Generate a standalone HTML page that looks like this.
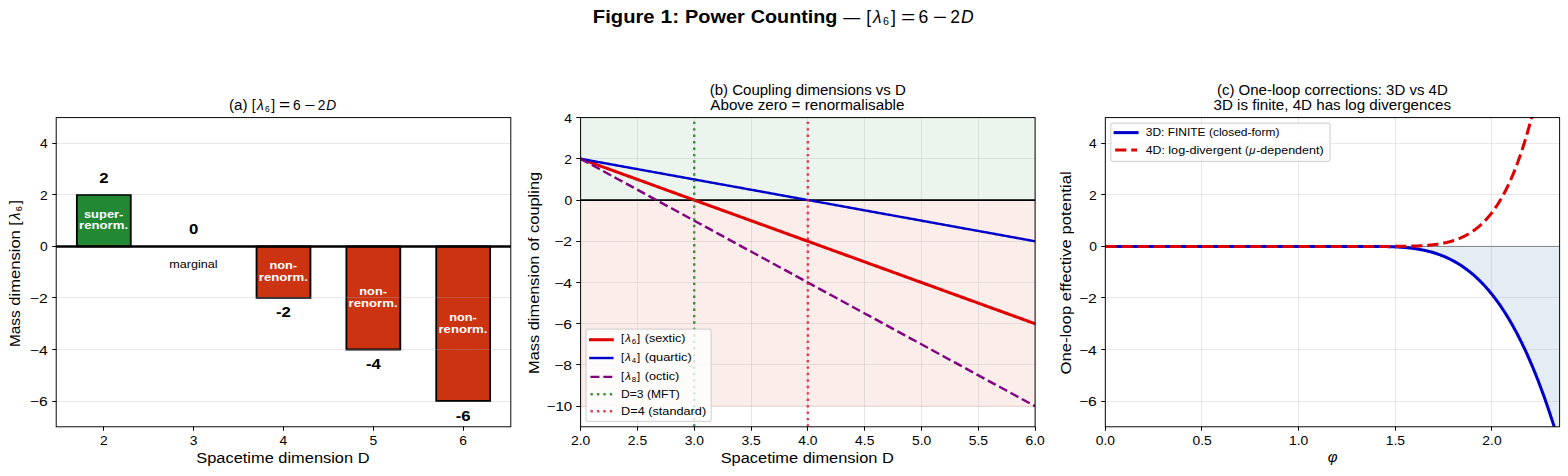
<!DOCTYPE html>
<html><head><meta charset="utf-8"><title>Figure 1: Power Counting</title>
<style>html,body{margin:0;padding:0;background:#fff;}body{width:1568px;height:476px;overflow:hidden;font-family:"Liberation Sans",sans-serif;}svg{display:block;}</style>
</head><body>
<svg width="1568" height="476" viewBox="0 0 1568 476" font-family="Liberation Sans, sans-serif">
<defs><clipPath id="ca"><rect x="56.2" y="117.59" width="454.6" height="309.21"/></clipPath><clipPath id="cb"><rect x="580.6" y="117.59" width="454.5" height="309.21"/></clipPath><clipPath id="cc"><rect x="1105.31" y="117.59" width="454.3" height="309.21"/></clipPath></defs>
<rect x="0" y="0" width="1568" height="476" fill="#ffffff"/>
<text x="592.89" y="22.59" font-size="17.52" font-weight="bold" textLength="61.68" lengthAdjust="spacingAndGlyphs">Figure</text>
<text x="660.49" y="22.59" font-size="17.52" font-weight="bold" textLength="18.64" lengthAdjust="spacingAndGlyphs">1:</text>
<text x="685.05" y="22.59" font-size="17.52" font-weight="bold" textLength="59.81" lengthAdjust="spacingAndGlyphs">Power</text>
<text x="750.78" y="22.59" font-size="17.52" font-weight="bold" textLength="86.66" lengthAdjust="spacingAndGlyphs">Counting</text>
<text x="843.36" y="22.59" font-size="17.52" textLength="17.01" lengthAdjust="spacingAndGlyphs">—</text>
<text x="866.3" y="22.59" font-size="17.52">[</text>
<text x="872.94" y="22.59" font-size="17.52" font-style="italic">λ</text>
<text x="883.01" y="25.08" font-size="10.67">6</text>
<text x="891.05" y="22.59" font-size="17.52">]</text>
<text x="901" y="22.59" font-size="17.52" textLength="14.26" lengthAdjust="spacingAndGlyphs">=</text>
<text x="918.57" y="22.59" font-size="17.52">6</text>
<text x="932.71" y="22.59" font-size="17.52" textLength="14.26" lengthAdjust="spacingAndGlyphs">−</text>
<text x="950.28" y="22.59" font-size="17.52">2</text>
<text x="961.11" y="22.59" font-size="17.52" font-style="italic">D</text>
<path d="M76.86 246.43 L130.77 246.43 L130.77 194.89 L76.86 194.89 L76.86 246.43 Z" fill="#228833" stroke="#000000" stroke-width="1.82" stroke-linejoin="miter" clip-path="url(#ca)"/>
<path d="M256.55 246.43 L310.45 246.43 L310.45 297.96 L256.55 297.96 L256.55 246.43 Z" fill="#cc3311" stroke="#000000" stroke-width="1.82" stroke-linejoin="miter" clip-path="url(#ca)"/>
<path d="M346.39 246.43 L400.3 246.43 L400.3 349.5 L346.39 349.5 L346.39 246.43 Z" fill="#cc3311" stroke="#000000" stroke-width="1.82" stroke-linejoin="miter" clip-path="url(#ca)"/>
<path d="M436.23 246.43 L490.14 246.43 L490.14 401.03 L436.23 401.03 L436.23 246.43 Z" fill="#cc3311" stroke="#000000" stroke-width="1.82" stroke-linejoin="miter" clip-path="url(#ca)"/>
<path d="M56.2 401.5 H510.8" stroke="#b0b0b0" stroke-opacity="0.3" stroke-width="0.97" fill="none"/>
<path d="M56.2 349.5 H510.8" stroke="#b0b0b0" stroke-opacity="0.3" stroke-width="0.97" fill="none"/>
<path d="M56.2 297.5 H510.8" stroke="#b0b0b0" stroke-opacity="0.3" stroke-width="0.97" fill="none"/>
<path d="M56.2 246.5 H510.8" stroke="#b0b0b0" stroke-opacity="0.3" stroke-width="0.97" fill="none"/>
<path d="M56.2 194.5 H510.8" stroke="#b0b0b0" stroke-opacity="0.3" stroke-width="0.97" fill="none"/>
<path d="M56.2 143.5 H510.8" stroke="#b0b0b0" stroke-opacity="0.3" stroke-width="0.97" fill="none"/>
<path d="M56.2 246.43 L510.8 246.43" fill="none" stroke="#000000" stroke-width="2.43" stroke-linecap="square" stroke-linejoin="round" clip-path="url(#ca)"/>
<text x="99.19" y="183.16" font-size="13.77" font-weight="bold" textLength="9.31" lengthAdjust="spacingAndGlyphs">2</text>
<text x="83.94" y="217.86" font-size="11.27" font-weight="bold" fill="#ffffff" textLength="39.48" lengthAdjust="spacingAndGlyphs">super-</text>
<text x="79.07" y="229.46" font-size="11.27" font-weight="bold" fill="#ffffff" textLength="49.06" lengthAdjust="spacingAndGlyphs">renorm.</text>
<text x="189.03" y="234.1" font-size="13.77" font-weight="bold" textLength="9.31" lengthAdjust="spacingAndGlyphs">0</text>
<text x="169.22" y="268.07" font-size="11.27" textLength="48.32" lengthAdjust="spacingAndGlyphs">marginal</text>
<text x="276.06" y="317.49" font-size="13.77" font-weight="bold" textLength="14.86" lengthAdjust="spacingAndGlyphs">-2</text>
<text x="269.5" y="269.4" font-size="11.27" font-weight="bold" fill="#ffffff" textLength="27.63" lengthAdjust="spacingAndGlyphs">non-</text>
<text x="258.75" y="281" font-size="11.27" font-weight="bold" fill="#ffffff" textLength="49.06" lengthAdjust="spacingAndGlyphs">renorm.</text>
<text x="365.91" y="369.03" font-size="13.77" font-weight="bold" textLength="14.86" lengthAdjust="spacingAndGlyphs">-4</text>
<text x="359.34" y="295.16" font-size="11.27" font-weight="bold" fill="#ffffff" textLength="27.63" lengthAdjust="spacingAndGlyphs">non-</text>
<text x="348.59" y="306.76" font-size="11.27" font-weight="bold" fill="#ffffff" textLength="49.06" lengthAdjust="spacingAndGlyphs">renorm.</text>
<text x="455.69" y="420.56" font-size="13.77" font-weight="bold" textLength="14.86" lengthAdjust="spacingAndGlyphs">-6</text>
<text x="449.19" y="320.93" font-size="11.27" font-weight="bold" fill="#ffffff" textLength="27.63" lengthAdjust="spacingAndGlyphs">non-</text>
<text x="438.44" y="332.53" font-size="11.27" font-weight="bold" fill="#ffffff" textLength="49.06" lengthAdjust="spacingAndGlyphs">renorm.</text>
<rect x="56.2" y="117.59" width="454.6" height="309.21" fill="none" stroke="#000" stroke-width="0.97" stroke-linejoin="miter"/>
<path d="M103.5 426.5 V430.75" stroke="#000" stroke-width="0.97"/>
<path d="M193.5 426.5 V430.75" stroke="#000" stroke-width="0.97"/>
<path d="M283.5 426.5 V430.75" stroke="#000" stroke-width="0.97"/>
<path d="M373.5 426.5 V430.75" stroke="#000" stroke-width="0.97"/>
<path d="M463.5 426.5 V430.75" stroke="#000" stroke-width="0.97"/>
<path d="M56.5 401.5 H52.25" stroke="#000" stroke-width="0.97"/>
<path d="M56.5 349.5 H52.25" stroke="#000" stroke-width="0.97"/>
<path d="M56.5 297.5 H52.25" stroke="#000" stroke-width="0.97"/>
<path d="M56.5 246.5 H52.25" stroke="#000" stroke-width="0.97"/>
<path d="M56.5 194.5 H52.25" stroke="#000" stroke-width="0.97"/>
<path d="M56.5 143.5 H52.25" stroke="#000" stroke-width="0.97"/>
<text x="99.94" y="445.31" font-size="12.52" textLength="7.71" lengthAdjust="spacingAndGlyphs">2</text>
<text x="189.78" y="445.31" font-size="12.52" textLength="7.71" lengthAdjust="spacingAndGlyphs">3</text>
<text x="279.63" y="445.31" font-size="12.52" textLength="7.71" lengthAdjust="spacingAndGlyphs">4</text>
<text x="369.53" y="445.31" font-size="12.52" textLength="7.71" lengthAdjust="spacingAndGlyphs">5</text>
<text x="459.31" y="445.31" font-size="12.52" textLength="7.71" lengthAdjust="spacingAndGlyphs">6</text>
<text x="29.82" y="406.03" font-size="12.52" textLength="17.87" lengthAdjust="spacingAndGlyphs">−6</text>
<text x="29.82" y="354.5" font-size="12.52" textLength="17.87" lengthAdjust="spacingAndGlyphs">−4</text>
<text x="29.82" y="302.96" font-size="12.52" textLength="17.87" lengthAdjust="spacingAndGlyphs">−2</text>
<text x="40.07" y="251.43" font-size="12.52" textLength="7.71" lengthAdjust="spacingAndGlyphs">0</text>
<text x="39.94" y="199.89" font-size="12.52" textLength="7.71" lengthAdjust="spacingAndGlyphs">2</text>
<text x="39.94" y="148.36" font-size="12.52" textLength="7.71" lengthAdjust="spacingAndGlyphs">4</text>
<text x="196.31" y="463.47" font-size="15.02" textLength="173.19" lengthAdjust="spacingAndGlyphs">Spacetime dimension D</text>
<g transform="rotate(-90 20.26 347.05)">
<text x="20.26" y="347.05" font-size="15.02" textLength="36.71" lengthAdjust="spacingAndGlyphs">Mass</text>
<text x="61.61" y="347.05" font-size="15.02" textLength="75.54" lengthAdjust="spacingAndGlyphs">dimension</text>
<text x="141.79" y="347.05" font-size="15.02">[</text>
<text x="147.48" y="347.05" font-size="15.02" font-style="italic">λ</text>
<text x="156.11" y="349.15" font-size="9.15">6</text>
<text x="163" y="347.05" font-size="15.02">]</text>
</g>
<text x="228.97" y="110.3" font-size="13.77" textLength="18.62" lengthAdjust="spacingAndGlyphs">(a)</text>
<text x="251.85" y="110.3" font-size="13.77">[</text>
<text x="257.06" y="110.3" font-size="13.77" font-style="italic">λ</text>
<text x="264.97" y="112.19" font-size="8.39">6</text>
<text x="271.29" y="110.3" font-size="13.77">]</text>
<text x="279.11" y="110.3" font-size="13.77" textLength="11.2" lengthAdjust="spacingAndGlyphs">=</text>
<text x="292.92" y="110.3" font-size="13.77">6</text>
<text x="304.03" y="110.3" font-size="13.77" textLength="11.2" lengthAdjust="spacingAndGlyphs">−</text>
<text x="317.83" y="110.3" font-size="13.77">2</text>
<text x="326.34" y="110.3" font-size="13.77" font-style="italic">D</text>
<path d="M580.6 200.05 L1035.11 200.05 L1035.11 117.59 L580.6 117.59 L580.6 200.05 Z" fill="#228833" fill-opacity="0.09" stroke="#228833" stroke-width="1.22" stroke-linejoin="miter" stroke-opacity="0.09" clip-path="url(#cb)"/>
<path d="M580.6 406.19 L1035.11 406.19 L1035.11 200.05 L580.6 200.05 L580.6 406.19 Z" fill="#cc3311" fill-opacity="0.09" stroke="#cc3311" stroke-width="1.22" stroke-linejoin="miter" stroke-opacity="0.09" clip-path="url(#cb)"/>
<path d="M580.5 117.59 V426.8" stroke="#b0b0b0" stroke-opacity="0.3" stroke-width="0.97" fill="none"/>
<path d="M637.5 117.59 V426.8" stroke="#b0b0b0" stroke-opacity="0.3" stroke-width="0.97" fill="none"/>
<path d="M694.5 117.59 V426.8" stroke="#b0b0b0" stroke-opacity="0.3" stroke-width="0.97" fill="none"/>
<path d="M751.5 117.59 V426.8" stroke="#b0b0b0" stroke-opacity="0.3" stroke-width="0.97" fill="none"/>
<path d="M807.5 117.59 V426.8" stroke="#b0b0b0" stroke-opacity="0.3" stroke-width="0.97" fill="none"/>
<path d="M864.5 117.59 V426.8" stroke="#b0b0b0" stroke-opacity="0.3" stroke-width="0.97" fill="none"/>
<path d="M921.5 117.59 V426.8" stroke="#b0b0b0" stroke-opacity="0.3" stroke-width="0.97" fill="none"/>
<path d="M978.5 117.59 V426.8" stroke="#b0b0b0" stroke-opacity="0.3" stroke-width="0.97" fill="none"/>
<path d="M1035.5 117.59 V426.8" stroke="#b0b0b0" stroke-opacity="0.3" stroke-width="0.97" fill="none"/>
<path d="M580.6 406.5 H1035.11" stroke="#b0b0b0" stroke-opacity="0.3" stroke-width="0.97" fill="none"/>
<path d="M580.6 364.5 H1035.11" stroke="#b0b0b0" stroke-opacity="0.3" stroke-width="0.97" fill="none"/>
<path d="M580.6 323.5 H1035.11" stroke="#b0b0b0" stroke-opacity="0.3" stroke-width="0.97" fill="none"/>
<path d="M580.6 282.5 H1035.11" stroke="#b0b0b0" stroke-opacity="0.3" stroke-width="0.97" fill="none"/>
<path d="M580.6 241.5 H1035.11" stroke="#b0b0b0" stroke-opacity="0.3" stroke-width="0.97" fill="none"/>
<path d="M580.6 200.5 H1035.11" stroke="#b0b0b0" stroke-opacity="0.3" stroke-width="0.97" fill="none"/>
<path d="M580.6 158.5 H1035.11" stroke="#b0b0b0" stroke-opacity="0.3" stroke-width="0.97" fill="none"/>
<path d="M580.6 117.5 H1035.11" stroke="#b0b0b0" stroke-opacity="0.3" stroke-width="0.97" fill="none"/>
<path d="M580.6 200.05 L1035.11 200.05" fill="none" stroke="#000000" stroke-width="1.82" stroke-linecap="square" stroke-linejoin="round" clip-path="url(#cb)"/>
<path d="M580.6 158.82 L582.89 159.65 L585.17 160.48 L587.46 161.31 L589.74 162.13 L592.02 162.96 L594.31 163.79 L596.59 164.62 L598.88 165.45 L601.16 166.28 L603.44 167.11 L605.73 167.94 L608.01 168.76 L610.29 169.59 L612.58 170.42 L614.86 171.25 L617.15 172.08 L619.43 172.91 L621.71 173.74 L624 174.57 L626.28 175.39 L628.57 176.22 L630.85 177.05 L633.13 177.88 L635.42 178.71 L637.7 179.54 L639.99 180.37 L642.27 181.19 L644.55 182.02 L646.84 182.85 L649.12 183.68 L651.41 184.51 L653.69 185.34 L655.97 186.17 L658.26 187 L660.54 187.82 L662.83 188.65 L665.11 189.48 L667.39 190.31 L669.68 191.14 L671.96 191.97 L674.25 192.8 L676.53 193.63 L678.81 194.45 L681.1 195.28 L683.38 196.11 L685.66 196.94 L687.95 197.77 L690.23 198.6 L692.52 199.43 L694.8 200.25 L697.08 201.08 L699.37 201.91 L701.65 202.74 L703.94 203.57 L706.22 204.4 L708.5 205.23 L710.79 206.06 L713.07 206.88 L715.36 207.71 L717.64 208.54 L719.92 209.37 L722.21 210.2 L724.49 211.03 L726.78 211.86 L729.06 212.69 L731.34 213.51 L733.63 214.34 L735.91 215.17 L738.2 216 L740.48 216.83 L742.76 217.66 L745.05 218.49 L747.33 219.31 L749.61 220.14 L751.9 220.97 L754.18 221.8 L756.47 222.63 L758.75 223.46 L761.03 224.29 L763.32 225.12 L765.6 225.94 L767.89 226.77 L770.17 227.6 L772.45 228.43 L774.74 229.26 L777.02 230.09 L779.31 230.92 L781.59 231.75 L783.87 232.57 L786.16 233.4 L788.44 234.23 L790.73 235.06 L793.01 235.89 L795.29 236.72 L797.58 237.55 L799.86 238.37 L802.15 239.2 L804.43 240.03 L806.71 240.86 L809 241.69 L811.28 242.52 L813.56 243.35 L815.85 244.18 L818.13 245 L820.42 245.83 L822.7 246.66 L824.98 247.49 L827.27 248.32 L829.55 249.15 L831.84 249.98 L834.12 250.81 L836.4 251.63 L838.69 252.46 L840.97 253.29 L843.26 254.12 L845.54 254.95 L847.82 255.78 L850.11 256.61 L852.39 257.43 L854.68 258.26 L856.96 259.09 L859.24 259.92 L861.53 260.75 L863.81 261.58 L866.1 262.41 L868.38 263.24 L870.66 264.06 L872.95 264.89 L875.23 265.72 L877.52 266.55 L879.8 267.38 L882.08 268.21 L884.37 269.04 L886.65 269.87 L888.93 270.69 L891.22 271.52 L893.5 272.35 L895.79 273.18 L898.07 274.01 L900.35 274.84 L902.64 275.67 L904.92 276.49 L907.21 277.32 L909.49 278.15 L911.77 278.98 L914.06 279.81 L916.34 280.64 L918.63 281.47 L920.91 282.3 L923.19 283.12 L925.48 283.95 L927.76 284.78 L930.05 285.61 L932.33 286.44 L934.61 287.27 L936.9 288.1 L939.18 288.92 L941.47 289.75 L943.75 290.58 L946.03 291.41 L948.32 292.24 L950.6 293.07 L952.88 293.9 L955.17 294.73 L957.45 295.55 L959.74 296.38 L962.02 297.21 L964.3 298.04 L966.59 298.87 L968.87 299.7 L971.16 300.53 L973.44 301.36 L975.72 302.18 L978.01 303.01 L980.29 303.84 L982.58 304.67 L984.86 305.5 L987.14 306.33 L989.43 307.16 L991.71 307.98 L994 308.81 L996.28 309.64 L998.56 310.47 L1000.85 311.3 L1003.13 312.13 L1005.42 312.96 L1007.7 313.79 L1009.98 314.61 L1012.27 315.44 L1014.55 316.27 L1016.84 317.1 L1019.12 317.93 L1021.4 318.76 L1023.69 319.59 L1025.97 320.42 L1028.25 321.24 L1030.54 322.07 L1032.82 322.9 L1035.11 323.73" fill="none" stroke="#e00000" stroke-width="3.04" stroke-linecap="square" stroke-linejoin="round" clip-path="url(#cb)"/>
<path d="M580.6 158.82 L582.89 159.23 L585.17 159.65 L587.46 160.06 L589.74 160.48 L592.02 160.89 L594.31 161.31 L596.59 161.72 L598.88 162.13 L601.16 162.55 L603.44 162.96 L605.73 163.38 L608.01 163.79 L610.29 164.21 L612.58 164.62 L614.86 165.04 L617.15 165.45 L619.43 165.86 L621.71 166.28 L624 166.69 L626.28 167.11 L628.57 167.52 L630.85 167.94 L633.13 168.35 L635.42 168.76 L637.7 169.18 L639.99 169.59 L642.27 170.01 L644.55 170.42 L646.84 170.84 L649.12 171.25 L651.41 171.66 L653.69 172.08 L655.97 172.49 L658.26 172.91 L660.54 173.32 L662.83 173.74 L665.11 174.15 L667.39 174.57 L669.68 174.98 L671.96 175.39 L674.25 175.81 L676.53 176.22 L678.81 176.64 L681.1 177.05 L683.38 177.47 L685.66 177.88 L687.95 178.29 L690.23 178.71 L692.52 179.12 L694.8 179.54 L697.08 179.95 L699.37 180.37 L701.65 180.78 L703.94 181.19 L706.22 181.61 L708.5 182.02 L710.79 182.44 L713.07 182.85 L715.36 183.27 L717.64 183.68 L719.92 184.1 L722.21 184.51 L724.49 184.92 L726.78 185.34 L729.06 185.75 L731.34 186.17 L733.63 186.58 L735.91 187 L738.2 187.41 L740.48 187.82 L742.76 188.24 L745.05 188.65 L747.33 189.07 L749.61 189.48 L751.9 189.9 L754.18 190.31 L756.47 190.72 L758.75 191.14 L761.03 191.55 L763.32 191.97 L765.6 192.38 L767.89 192.8 L770.17 193.21 L772.45 193.63 L774.74 194.04 L777.02 194.45 L779.31 194.87 L781.59 195.28 L783.87 195.7 L786.16 196.11 L788.44 196.53 L790.73 196.94 L793.01 197.35 L795.29 197.77 L797.58 198.18 L799.86 198.6 L802.15 199.01 L804.43 199.43 L806.71 199.84 L809 200.25 L811.28 200.67 L813.56 201.08 L815.85 201.5 L818.13 201.91 L820.42 202.33 L822.7 202.74 L824.98 203.16 L827.27 203.57 L829.55 203.98 L831.84 204.4 L834.12 204.81 L836.4 205.23 L838.69 205.64 L840.97 206.06 L843.26 206.47 L845.54 206.88 L847.82 207.3 L850.11 207.71 L852.39 208.13 L854.68 208.54 L856.96 208.96 L859.24 209.37 L861.53 209.78 L863.81 210.2 L866.1 210.61 L868.38 211.03 L870.66 211.44 L872.95 211.86 L875.23 212.27 L877.52 212.69 L879.8 213.1 L882.08 213.51 L884.37 213.93 L886.65 214.34 L888.93 214.76 L891.22 215.17 L893.5 215.59 L895.79 216 L898.07 216.41 L900.35 216.83 L902.64 217.24 L904.92 217.66 L907.21 218.07 L909.49 218.49 L911.77 218.9 L914.06 219.31 L916.34 219.73 L918.63 220.14 L920.91 220.56 L923.19 220.97 L925.48 221.39 L927.76 221.8 L930.05 222.22 L932.33 222.63 L934.61 223.04 L936.9 223.46 L939.18 223.87 L941.47 224.29 L943.75 224.7 L946.03 225.12 L948.32 225.53 L950.6 225.94 L952.88 226.36 L955.17 226.77 L957.45 227.19 L959.74 227.6 L962.02 228.02 L964.3 228.43 L966.59 228.84 L968.87 229.26 L971.16 229.67 L973.44 230.09 L975.72 230.5 L978.01 230.92 L980.29 231.33 L982.58 231.75 L984.86 232.16 L987.14 232.57 L989.43 232.99 L991.71 233.4 L994 233.82 L996.28 234.23 L998.56 234.65 L1000.85 235.06 L1003.13 235.47 L1005.42 235.89 L1007.7 236.3 L1009.98 236.72 L1012.27 237.13 L1014.55 237.55 L1016.84 237.96 L1019.12 238.37 L1021.4 238.79 L1023.69 239.2 L1025.97 239.62 L1028.25 240.03 L1030.54 240.45 L1032.82 240.86 L1035.11 241.28" fill="none" stroke="#0000cc" stroke-width="2.43" stroke-linecap="square" stroke-linejoin="round" clip-path="url(#cb)"/>
<path d="M580.6 158.82 L582.89 160.06 L585.17 161.31 L587.46 162.55 L589.74 163.79 L592.02 165.04 L594.31 166.28 L596.59 167.52 L598.88 168.76 L601.16 170.01 L603.44 171.25 L605.73 172.49 L608.01 173.74 L610.29 174.98 L612.58 176.22 L614.86 177.47 L617.15 178.71 L619.43 179.95 L621.71 181.19 L624 182.44 L626.28 183.68 L628.57 184.92 L630.85 186.17 L633.13 187.41 L635.42 188.65 L637.7 189.9 L639.99 191.14 L642.27 192.38 L644.55 193.63 L646.84 194.87 L649.12 196.11 L651.41 197.35 L653.69 198.6 L655.97 199.84 L658.26 201.08 L660.54 202.33 L662.83 203.57 L665.11 204.81 L667.39 206.06 L669.68 207.3 L671.96 208.54 L674.25 209.78 L676.53 211.03 L678.81 212.27 L681.1 213.51 L683.38 214.76 L685.66 216 L687.95 217.24 L690.23 218.49 L692.52 219.73 L694.8 220.97 L697.08 222.22 L699.37 223.46 L701.65 224.7 L703.94 225.94 L706.22 227.19 L708.5 228.43 L710.79 229.67 L713.07 230.92 L715.36 232.16 L717.64 233.4 L719.92 234.65 L722.21 235.89 L724.49 237.13 L726.78 238.37 L729.06 239.62 L731.34 240.86 L733.63 242.1 L735.91 243.35 L738.2 244.59 L740.48 245.83 L742.76 247.08 L745.05 248.32 L747.33 249.56 L749.61 250.81 L751.9 252.05 L754.18 253.29 L756.47 254.53 L758.75 255.78 L761.03 257.02 L763.32 258.26 L765.6 259.51 L767.89 260.75 L770.17 261.99 L772.45 263.24 L774.74 264.48 L777.02 265.72 L779.31 266.96 L781.59 268.21 L783.87 269.45 L786.16 270.69 L788.44 271.94 L790.73 273.18 L793.01 274.42 L795.29 275.67 L797.58 276.91 L799.86 278.15 L802.15 279.39 L804.43 280.64 L806.71 281.88 L809 283.12 L811.28 284.37 L813.56 285.61 L815.85 286.85 L818.13 288.1 L820.42 289.34 L822.7 290.58 L824.98 291.83 L827.27 293.07 L829.55 294.31 L831.84 295.55 L834.12 296.8 L836.4 298.04 L838.69 299.28 L840.97 300.53 L843.26 301.77 L845.54 303.01 L847.82 304.26 L850.11 305.5 L852.39 306.74 L854.68 307.98 L856.96 309.23 L859.24 310.47 L861.53 311.71 L863.81 312.96 L866.1 314.2 L868.38 315.44 L870.66 316.69 L872.95 317.93 L875.23 319.17 L877.52 320.42 L879.8 321.66 L882.08 322.9 L884.37 324.14 L886.65 325.39 L888.93 326.63 L891.22 327.87 L893.5 329.12 L895.79 330.36 L898.07 331.6 L900.35 332.85 L902.64 334.09 L904.92 335.33 L907.21 336.57 L909.49 337.82 L911.77 339.06 L914.06 340.3 L916.34 341.55 L918.63 342.79 L920.91 344.03 L923.19 345.28 L925.48 346.52 L927.76 347.76 L930.05 349.01 L932.33 350.25 L934.61 351.49 L936.9 352.73 L939.18 353.98 L941.47 355.22 L943.75 356.46 L946.03 357.71 L948.32 358.95 L950.6 360.19 L952.88 361.44 L955.17 362.68 L957.45 363.92 L959.74 365.16 L962.02 366.41 L964.3 367.65 L966.59 368.89 L968.87 370.14 L971.16 371.38 L973.44 372.62 L975.72 373.87 L978.01 375.11 L980.29 376.35 L982.58 377.6 L984.86 378.84 L987.14 380.08 L989.43 381.32 L991.71 382.57 L994 383.81 L996.28 385.05 L998.56 386.3 L1000.85 387.54 L1003.13 388.78 L1005.42 390.03 L1007.7 391.27 L1009.98 392.51 L1012.27 393.75 L1014.55 395 L1016.84 396.24 L1019.12 397.48 L1021.4 398.73 L1023.69 399.97 L1025.97 401.21 L1028.25 402.46 L1030.54 403.7 L1032.82 404.94 L1035.11 406.19" fill="none" stroke="#800080" stroke-width="2.43" stroke-dasharray="8.99 3.89" stroke-linecap="butt" stroke-linejoin="round" clip-path="url(#cb)"/>
<path d="M694.23 426.8 L694.23 117.59" fill="none" stroke="#1a801a" stroke-width="2.43" stroke-opacity="0.85" stroke-dasharray="2.43 4.01" stroke-linecap="butt" stroke-linejoin="round" clip-path="url(#cb)"/>
<path d="M807.86 426.8 L807.86 117.59" fill="none" stroke="#d8203a" stroke-width="2.43" stroke-opacity="0.85" stroke-dasharray="2.43 4.01" stroke-linecap="butt" stroke-linejoin="round" clip-path="url(#cb)"/>
<rect x="580.6" y="117.59" width="454.5" height="309.21" fill="none" stroke="#000" stroke-width="0.97" stroke-linejoin="miter"/>
<path d="M580.5 426.5 V430.75" stroke="#000" stroke-width="0.97"/>
<path d="M637.5 426.5 V430.75" stroke="#000" stroke-width="0.97"/>
<path d="M694.5 426.5 V430.75" stroke="#000" stroke-width="0.97"/>
<path d="M751.5 426.5 V430.75" stroke="#000" stroke-width="0.97"/>
<path d="M807.5 426.5 V430.75" stroke="#000" stroke-width="0.97"/>
<path d="M864.5 426.5 V430.75" stroke="#000" stroke-width="0.97"/>
<path d="M921.5 426.5 V430.75" stroke="#000" stroke-width="0.97"/>
<path d="M978.5 426.5 V430.75" stroke="#000" stroke-width="0.97"/>
<path d="M1035.5 426.5 V430.75" stroke="#000" stroke-width="0.97"/>
<path d="M580.5 406.5 H576.25" stroke="#000" stroke-width="0.97"/>
<path d="M580.5 364.5 H576.25" stroke="#000" stroke-width="0.97"/>
<path d="M580.5 323.5 H576.25" stroke="#000" stroke-width="0.97"/>
<path d="M580.5 282.5 H576.25" stroke="#000" stroke-width="0.97"/>
<path d="M580.5 241.5 H576.25" stroke="#000" stroke-width="0.97"/>
<path d="M580.5 200.5 H576.25" stroke="#000" stroke-width="0.97"/>
<path d="M580.5 158.5 H576.25" stroke="#000" stroke-width="0.97"/>
<path d="M580.5 117.5 H576.25" stroke="#000" stroke-width="0.97"/>
<text x="571.04" y="445.31" font-size="12.52" textLength="19.28" lengthAdjust="spacingAndGlyphs">2.0</text>
<text x="627.85" y="445.31" font-size="12.52" textLength="19.28" lengthAdjust="spacingAndGlyphs">2.5</text>
<text x="684.67" y="445.31" font-size="12.52" textLength="19.28" lengthAdjust="spacingAndGlyphs">3.0</text>
<text x="741.48" y="445.31" font-size="12.52" textLength="19.28" lengthAdjust="spacingAndGlyphs">3.5</text>
<text x="798.29" y="445.31" font-size="12.52" textLength="19.28" lengthAdjust="spacingAndGlyphs">4.0</text>
<text x="855.11" y="445.31" font-size="12.52" textLength="19.28" lengthAdjust="spacingAndGlyphs">4.5</text>
<text x="911.98" y="445.31" font-size="12.52" textLength="19.28" lengthAdjust="spacingAndGlyphs">5.0</text>
<text x="968.79" y="445.31" font-size="12.52" textLength="19.28" lengthAdjust="spacingAndGlyphs">5.5</text>
<text x="1025.54" y="445.31" font-size="12.52" textLength="19.28" lengthAdjust="spacingAndGlyphs">6.0</text>
<text x="546.6" y="411.19" font-size="12.52" textLength="25.59" lengthAdjust="spacingAndGlyphs">−10</text>
<text x="554.22" y="369.96" font-size="12.52" textLength="17.87" lengthAdjust="spacingAndGlyphs">−8</text>
<text x="554.22" y="328.73" font-size="12.52" textLength="17.87" lengthAdjust="spacingAndGlyphs">−6</text>
<text x="554.22" y="287.5" font-size="12.52" textLength="17.87" lengthAdjust="spacingAndGlyphs">−4</text>
<text x="554.22" y="246.28" font-size="12.52" textLength="17.87" lengthAdjust="spacingAndGlyphs">−2</text>
<text x="564.47" y="205.05" font-size="12.52" textLength="7.71" lengthAdjust="spacingAndGlyphs">0</text>
<text x="564.35" y="163.82" font-size="12.52" textLength="7.71" lengthAdjust="spacingAndGlyphs">2</text>
<text x="564.35" y="122.59" font-size="12.52" textLength="7.71" lengthAdjust="spacingAndGlyphs">4</text>
<rect x="586.07" y="329.08" width="125.12" height="92.25" rx="2.19" fill="#ffffff" fill-opacity="0.8" stroke="#cccccc" stroke-opacity="0.8" stroke-width="1.22"/>
<path d="M590.45 339.73 L601.38 339.73 L612.32 339.73" fill="none" stroke="#e00000" stroke-width="3.04" stroke-linecap="square" stroke-linejoin="round"/>
<path d="M590.45 358.01 L601.38 358.01 L612.32 358.01" fill="none" stroke="#0000cc" stroke-width="2.43" stroke-linecap="square" stroke-linejoin="round"/>
<path d="M590.45 376.88 L601.38 376.88 L612.32 376.88" fill="none" stroke="#800080" stroke-width="2.43" stroke-dasharray="8.99 3.89" stroke-linecap="butt" stroke-linejoin="round"/>
<path d="M590.45 394.26 L601.38 394.26 L612.32 394.26" fill="none" stroke="#1a801a" stroke-width="2.43" stroke-opacity="0.85" stroke-dasharray="2.43 4.01" stroke-linecap="butt" stroke-linejoin="round"/>
<path d="M590.45 411.23 L601.38 411.23 L612.32 411.23" fill="none" stroke="#d8203a" stroke-width="2.43" stroke-opacity="0.85" stroke-dasharray="2.43 4.01" stroke-linecap="butt" stroke-linejoin="round"/>
<text x="621.07" y="341.76" font-size="11.27">[</text>
<text x="625.34" y="341.76" font-size="11.27" font-style="italic">λ</text>
<text x="631.81" y="343.96" font-size="7.89">6</text>
<text x="636.98" y="341.76" font-size="11.27">]</text>
<text x="644.73" y="341.76" font-size="11.27" textLength="40.78" lengthAdjust="spacingAndGlyphs">(sextic)</text>
<text x="621.07" y="360.84" font-size="11.27">[</text>
<text x="625.34" y="360.84" font-size="11.27" font-style="italic">λ</text>
<text x="631.81" y="363.03" font-size="7.89">4</text>
<text x="636.98" y="360.84" font-size="11.27">]</text>
<text x="644.73" y="360.84" font-size="11.27" textLength="46.95" lengthAdjust="spacingAndGlyphs">(quartic)</text>
<text x="621.07" y="379.71" font-size="11.27">[</text>
<text x="625.34" y="379.71" font-size="11.27" font-style="italic">λ</text>
<text x="631.81" y="381.91" font-size="7.89">8</text>
<text x="636.98" y="379.71" font-size="11.27">]</text>
<text x="644.73" y="379.71" font-size="11.27" textLength="34.58" lengthAdjust="spacingAndGlyphs">(octic)</text>
<text x="621.07" y="398.09" font-size="11.27" textLength="58.77" lengthAdjust="spacingAndGlyphs">D=3 (MFT)</text>
<text x="621.07" y="415.06" font-size="11.27" textLength="85.07" lengthAdjust="spacingAndGlyphs">D=4 (standard)</text>
<text x="720.67" y="463.47" font-size="15.02" textLength="173.19" lengthAdjust="spacingAndGlyphs">Spacetime dimension D</text>
<g transform="rotate(-90 538.74 373.88)">
<text x="538.74" y="373.88" font-size="15.02" textLength="201.98" lengthAdjust="spacingAndGlyphs">Mass dimension of coupling</text>
</g>
<text x="709.67" y="95.3" font-size="13.77" textLength="196.26" lengthAdjust="spacingAndGlyphs">(b) Coupling dimensions vs D</text>
<text x="710.29" y="110.3" font-size="13.77" textLength="194.18" lengthAdjust="spacingAndGlyphs">Above zero = renormalisable</text>
<path d="M1105.31 246.43 L1105.31 246.43 L1106.11 246.43 L1106.92 246.43 L1107.73 246.43 L1108.53 246.43 L1109.34 246.43 L1110.15 246.43 L1110.95 246.43 L1111.76 246.43 L1112.57 246.43 L1113.38 246.43 L1114.18 246.43 L1114.99 246.43 L1115.8 246.43 L1116.6 246.43 L1117.41 246.43 L1118.22 246.43 L1119.02 246.43 L1119.83 246.43 L1120.64 246.43 L1121.44 246.43 L1122.25 246.43 L1123.06 246.43 L1123.86 246.43 L1124.67 246.43 L1125.48 246.43 L1126.29 246.43 L1127.09 246.43 L1127.9 246.43 L1128.71 246.43 L1129.51 246.43 L1130.32 246.43 L1131.13 246.43 L1131.93 246.43 L1132.74 246.43 L1133.55 246.43 L1134.35 246.43 L1135.16 246.43 L1135.97 246.43 L1136.77 246.43 L1137.58 246.43 L1138.39 246.43 L1139.19 246.43 L1140 246.43 L1140.81 246.43 L1141.62 246.43 L1142.42 246.43 L1143.23 246.43 L1144.04 246.43 L1144.84 246.43 L1145.65 246.43 L1146.46 246.43 L1147.26 246.43 L1148.07 246.43 L1148.88 246.43 L1149.68 246.43 L1150.49 246.43 L1151.3 246.43 L1152.1 246.43 L1152.91 246.43 L1153.72 246.43 L1154.52 246.43 L1155.33 246.43 L1156.14 246.43 L1156.95 246.43 L1157.75 246.43 L1158.56 246.43 L1159.37 246.43 L1160.17 246.43 L1160.98 246.43 L1161.79 246.43 L1162.59 246.43 L1163.4 246.43 L1164.21 246.43 L1165.01 246.43 L1165.82 246.43 L1166.63 246.43 L1167.43 246.43 L1168.24 246.43 L1169.05 246.43 L1169.85 246.43 L1170.66 246.43 L1171.47 246.43 L1172.28 246.43 L1173.08 246.43 L1173.89 246.43 L1174.7 246.43 L1175.5 246.43 L1176.31 246.43 L1177.12 246.43 L1177.92 246.43 L1178.73 246.43 L1179.54 246.43 L1180.34 246.43 L1181.15 246.43 L1181.96 246.43 L1182.76 246.43 L1183.57 246.43 L1184.38 246.43 L1185.18 246.43 L1185.99 246.43 L1186.8 246.43 L1187.61 246.43 L1188.41 246.43 L1189.22 246.43 L1190.03 246.43 L1190.83 246.43 L1191.64 246.43 L1192.45 246.43 L1193.25 246.43 L1194.06 246.43 L1194.87 246.43 L1195.67 246.43 L1196.48 246.43 L1197.29 246.43 L1198.09 246.43 L1198.9 246.43 L1199.71 246.43 L1200.51 246.43 L1201.32 246.43 L1202.13 246.43 L1202.94 246.43 L1203.74 246.43 L1204.55 246.43 L1205.36 246.43 L1206.16 246.43 L1206.97 246.43 L1207.78 246.43 L1208.58 246.43 L1209.39 246.43 L1210.2 246.43 L1211 246.43 L1211.81 246.43 L1212.62 246.43 L1213.42 246.43 L1214.23 246.43 L1215.04 246.43 L1215.84 246.43 L1216.65 246.43 L1217.46 246.43 L1218.27 246.43 L1219.07 246.43 L1219.88 246.43 L1220.69 246.43 L1221.49 246.43 L1222.3 246.43 L1223.11 246.43 L1223.91 246.43 L1224.72 246.43 L1225.53 246.43 L1226.33 246.43 L1227.14 246.43 L1227.95 246.43 L1228.75 246.43 L1229.56 246.43 L1230.37 246.43 L1231.18 246.43 L1231.98 246.43 L1232.79 246.43 L1233.6 246.43 L1234.4 246.43 L1235.21 246.43 L1236.02 246.43 L1236.82 246.43 L1237.63 246.43 L1238.44 246.43 L1239.24 246.43 L1240.05 246.43 L1240.86 246.43 L1241.66 246.43 L1242.47 246.43 L1243.28 246.43 L1244.08 246.43 L1244.89 246.43 L1245.7 246.43 L1246.51 246.43 L1247.31 246.43 L1248.12 246.43 L1248.93 246.43 L1249.73 246.43 L1250.54 246.43 L1251.35 246.43 L1252.15 246.43 L1252.96 246.43 L1253.77 246.43 L1254.57 246.43 L1255.38 246.43 L1256.19 246.43 L1256.99 246.43 L1257.8 246.43 L1258.61 246.43 L1259.41 246.43 L1260.22 246.43 L1261.03 246.43 L1261.84 246.43 L1262.64 246.43 L1263.45 246.43 L1264.26 246.43 L1265.06 246.43 L1265.87 246.43 L1266.68 246.43 L1267.48 246.43 L1268.29 246.43 L1269.1 246.43 L1269.9 246.43 L1270.71 246.43 L1271.52 246.43 L1272.32 246.43 L1273.13 246.43 L1273.94 246.43 L1274.74 246.43 L1275.55 246.43 L1276.36 246.43 L1277.17 246.43 L1277.97 246.43 L1278.78 246.43 L1279.59 246.43 L1280.39 246.43 L1281.2 246.43 L1282.01 246.43 L1282.81 246.43 L1283.62 246.43 L1284.43 246.43 L1285.23 246.43 L1286.04 246.43 L1286.85 246.43 L1287.65 246.43 L1288.46 246.43 L1289.27 246.43 L1290.07 246.43 L1290.88 246.43 L1291.69 246.43 L1292.5 246.43 L1293.3 246.43 L1294.11 246.43 L1294.92 246.43 L1295.72 246.43 L1296.53 246.43 L1297.34 246.43 L1298.14 246.43 L1298.95 246.43 L1299.76 246.43 L1300.56 246.43 L1301.37 246.43 L1302.18 246.43 L1302.98 246.43 L1303.79 246.43 L1304.6 246.43 L1305.4 246.43 L1306.21 246.43 L1307.02 246.43 L1307.83 246.43 L1308.63 246.43 L1309.44 246.43 L1310.25 246.43 L1311.05 246.43 L1311.86 246.43 L1312.67 246.43 L1313.47 246.43 L1314.28 246.43 L1315.09 246.43 L1315.89 246.43 L1316.7 246.43 L1317.51 246.43 L1318.31 246.43 L1319.12 246.43 L1319.93 246.43 L1320.74 246.43 L1321.54 246.43 L1322.35 246.43 L1323.16 246.43 L1323.96 246.43 L1324.77 246.43 L1325.58 246.43 L1326.38 246.43 L1327.19 246.43 L1328 246.43 L1328.8 246.43 L1329.61 246.43 L1330.42 246.43 L1331.22 246.43 L1332.03 246.43 L1332.84 246.43 L1333.64 246.43 L1334.45 246.43 L1335.26 246.43 L1336.07 246.43 L1336.87 246.43 L1337.68 246.43 L1338.49 246.43 L1339.29 246.43 L1340.1 246.43 L1340.91 246.43 L1341.71 246.43 L1342.52 246.43 L1343.33 246.43 L1344.13 246.43 L1344.94 246.43 L1345.75 246.43 L1346.55 246.43 L1347.36 246.43 L1348.17 246.43 L1348.97 246.43 L1349.78 246.43 L1350.59 246.43 L1351.4 246.43 L1352.2 246.43 L1353.01 246.43 L1353.82 246.43 L1354.62 246.43 L1355.43 246.43 L1356.24 246.43 L1357.04 246.43 L1357.85 246.43 L1358.66 246.43 L1359.46 246.43 L1360.27 246.43 L1361.08 246.43 L1361.88 246.43 L1362.69 246.43 L1363.5 246.43 L1364.3 246.43 L1365.11 246.43 L1365.92 246.43 L1366.73 246.43 L1367.53 246.43 L1368.34 246.43 L1369.15 246.43 L1369.95 246.43 L1370.76 246.43 L1371.57 246.43 L1372.37 246.44 L1373.18 246.44 L1373.99 246.44 L1374.79 246.44 L1375.6 246.45 L1376.41 246.45 L1377.21 246.46 L1378.02 246.46 L1378.83 246.47 L1379.63 246.48 L1380.44 246.48 L1381.25 246.49 L1382.06 246.5 L1382.86 246.52 L1383.67 246.53 L1384.48 246.54 L1385.28 246.56 L1386.09 246.57 L1386.9 246.59 L1387.7 246.61 L1388.51 246.63 L1389.32 246.65 L1390.12 246.68 L1390.93 246.7 L1391.74 246.73 L1392.54 246.76 L1393.35 246.79 L1394.16 246.83 L1394.96 246.86 L1395.77 246.9 L1396.58 246.94 L1397.39 246.99 L1398.19 247.03 L1399 247.08 L1399.81 247.13 L1400.61 247.18 L1401.42 247.24 L1402.23 247.3 L1403.03 247.36 L1403.84 247.42 L1404.65 247.49 L1405.45 247.56 L1406.26 247.64 L1407.07 247.72 L1407.87 247.8 L1408.68 247.88 L1409.49 247.97 L1410.29 248.06 L1411.1 248.16 L1411.91 248.26 L1412.72 248.36 L1413.52 248.47 L1414.33 248.58 L1415.14 248.7 L1415.94 248.82 L1416.75 248.94 L1417.56 249.07 L1418.36 249.21 L1419.17 249.35 L1419.98 249.49 L1420.78 249.64 L1421.59 249.79 L1422.4 249.95 L1423.2 250.12 L1424.01 250.28 L1424.82 250.46 L1425.63 250.64 L1426.43 250.83 L1427.24 251.02 L1428.05 251.21 L1428.85 251.42 L1429.66 251.63 L1430.47 251.84 L1431.27 252.06 L1432.08 252.29 L1432.89 252.52 L1433.69 252.76 L1434.5 253.01 L1435.31 253.26 L1436.11 253.52 L1436.92 253.79 L1437.73 254.07 L1438.53 254.35 L1439.34 254.64 L1440.15 254.93 L1440.96 255.24 L1441.76 255.55 L1442.57 255.86 L1443.38 256.19 L1444.18 256.52 L1444.99 256.87 L1445.8 257.22 L1446.6 257.57 L1447.41 257.94 L1448.22 258.32 L1449.02 258.7 L1449.83 259.09 L1450.64 259.49 L1451.44 259.9 L1452.25 260.32 L1453.06 260.75 L1453.86 261.18 L1454.67 261.63 L1455.48 262.08 L1456.29 262.55 L1457.09 263.02 L1457.9 263.51 L1458.71 264 L1459.51 264.51 L1460.32 265.02 L1461.13 265.54 L1461.93 266.08 L1462.74 266.62 L1463.55 267.18 L1464.35 267.74 L1465.16 268.32 L1465.97 268.91 L1466.77 269.51 L1467.58 270.12 L1468.39 270.74 L1469.19 271.37 L1470 272.01 L1470.81 272.67 L1471.62 273.33 L1472.42 274.01 L1473.23 274.7 L1474.04 275.41 L1474.84 276.12 L1475.65 276.85 L1476.46 277.59 L1477.26 278.34 L1478.07 279.11 L1478.88 279.88 L1479.68 280.67 L1480.49 281.48 L1481.3 282.29 L1482.1 283.12 L1482.91 283.97 L1483.72 284.82 L1484.52 285.69 L1485.33 286.58 L1486.14 287.48 L1486.95 288.39 L1487.75 289.32 L1488.56 290.26 L1489.37 291.21 L1490.17 292.18 L1490.98 293.16 L1491.79 294.16 L1492.59 295.18 L1493.4 296.21 L1494.21 297.25 L1495.01 298.31 L1495.82 299.38 L1496.63 300.47 L1497.43 301.58 L1498.24 302.7 L1499.05 303.84 L1499.85 304.99 L1500.66 306.16 L1501.47 307.35 L1502.28 308.55 L1503.08 309.77 L1503.89 311.01 L1504.7 312.26 L1505.5 313.53 L1506.31 314.82 L1507.12 316.12 L1507.92 317.44 L1508.73 318.78 L1509.54 320.14 L1510.34 321.51 L1511.15 322.91 L1511.96 324.32 L1512.76 325.74 L1513.57 327.19 L1514.38 328.66 L1515.18 330.14 L1515.99 331.64 L1516.8 333.16 L1517.61 334.7 L1518.41 336.26 L1519.22 337.84 L1520.03 339.44 L1520.83 341.06 L1521.64 342.7 L1522.45 344.35 L1523.25 346.03 L1524.06 347.73 L1524.87 349.44 L1525.67 351.18 L1526.48 352.94 L1527.29 354.72 L1528.09 356.52 L1528.9 358.34 L1529.71 360.18 L1530.52 362.04 L1531.32 363.93 L1532.13 365.83 L1532.94 367.76 L1533.74 369.71 L1534.55 371.68 L1535.36 373.67 L1536.16 375.69 L1536.97 377.72 L1537.78 379.78 L1538.58 381.86 L1539.39 383.97 L1540.2 386.1 L1541 388.25 L1541.81 390.42 L1542.62 392.62 L1543.42 394.84 L1544.23 397.08 L1545.04 399.35 L1545.85 401.64 L1546.65 403.96 L1547.46 406.3 L1548.27 408.66 L1549.07 411.05 L1549.88 413.47 L1550.69 415.9 L1551.49 418.37 L1552.3 420.85 L1553.11 423.37 L1553.91 425.91 L1554.72 428.47 L1555.53 431.06 L1556.33 433.68 L1557.14 436.32 L1557.95 438.98 L1558.75 441.68 L1559.56 444.4 L1560.37 447.14 L1561.18 449.92 L1561.98 452.72 L1562.79 455.54 L1563.6 458.4 L1564.4 461.28 L1565.21 464.19 L1566.02 467.12 L1566.82 470.09 L1567.63 473.08 L1568.44 476.1 L1569.24 479.15 L1570.05 482.22 L1570.86 485.33 L1571.66 488.46 L1572.47 491.62 L1573.28 494.81 L1574.08 498.03 L1574.89 501.28 L1575.7 504.56 L1576.51 507.87 L1577.31 511.21 L1578.12 514.57 L1578.93 517.97 L1579.73 521.4 L1580.54 524.86 L1581.35 528.34 L1582.15 531.86 L1582.96 535.41 L1583.77 538.99 L1584.57 542.6 L1585.38 546.25 L1586.19 549.92 L1586.99 553.63 L1587.8 557.36 L1588.61 561.13 L1588.61 246.43 L1588.61 246.43 L1587.8 246.43 L1586.99 246.43 L1586.19 246.43 L1585.38 246.43 L1584.57 246.43 L1583.77 246.43 L1582.96 246.43 L1582.15 246.43 L1581.35 246.43 L1580.54 246.43 L1579.73 246.43 L1578.93 246.43 L1578.12 246.43 L1577.31 246.43 L1576.51 246.43 L1575.7 246.43 L1574.89 246.43 L1574.08 246.43 L1573.28 246.43 L1572.47 246.43 L1571.66 246.43 L1570.86 246.43 L1570.05 246.43 L1569.24 246.43 L1568.44 246.43 L1567.63 246.43 L1566.82 246.43 L1566.02 246.43 L1565.21 246.43 L1564.4 246.43 L1563.6 246.43 L1562.79 246.43 L1561.98 246.43 L1561.18 246.43 L1560.37 246.43 L1559.56 246.43 L1558.75 246.43 L1557.95 246.43 L1557.14 246.43 L1556.33 246.43 L1555.53 246.43 L1554.72 246.43 L1553.91 246.43 L1553.11 246.43 L1552.3 246.43 L1551.49 246.43 L1550.69 246.43 L1549.88 246.43 L1549.07 246.43 L1548.27 246.43 L1547.46 246.43 L1546.65 246.43 L1545.85 246.43 L1545.04 246.43 L1544.23 246.43 L1543.42 246.43 L1542.62 246.43 L1541.81 246.43 L1541 246.43 L1540.2 246.43 L1539.39 246.43 L1538.58 246.43 L1537.78 246.43 L1536.97 246.43 L1536.16 246.43 L1535.36 246.43 L1534.55 246.43 L1533.74 246.43 L1532.94 246.43 L1532.13 246.43 L1531.32 246.43 L1530.52 246.43 L1529.71 246.43 L1528.9 246.43 L1528.09 246.43 L1527.29 246.43 L1526.48 246.43 L1525.67 246.43 L1524.87 246.43 L1524.06 246.43 L1523.25 246.43 L1522.45 246.43 L1521.64 246.43 L1520.83 246.43 L1520.03 246.43 L1519.22 246.43 L1518.41 246.43 L1517.61 246.43 L1516.8 246.43 L1515.99 246.43 L1515.18 246.43 L1514.38 246.43 L1513.57 246.43 L1512.76 246.43 L1511.96 246.43 L1511.15 246.43 L1510.34 246.43 L1509.54 246.43 L1508.73 246.43 L1507.92 246.43 L1507.12 246.43 L1506.31 246.43 L1505.5 246.43 L1504.7 246.43 L1503.89 246.43 L1503.08 246.43 L1502.28 246.43 L1501.47 246.43 L1500.66 246.43 L1499.85 246.43 L1499.05 246.43 L1498.24 246.43 L1497.43 246.43 L1496.63 246.43 L1495.82 246.43 L1495.01 246.43 L1494.21 246.43 L1493.4 246.43 L1492.59 246.43 L1491.79 246.43 L1490.98 246.43 L1490.17 246.43 L1489.37 246.43 L1488.56 246.43 L1487.75 246.43 L1486.95 246.43 L1486.14 246.43 L1485.33 246.43 L1484.52 246.43 L1483.72 246.43 L1482.91 246.43 L1482.1 246.43 L1481.3 246.43 L1480.49 246.43 L1479.68 246.43 L1478.88 246.43 L1478.07 246.43 L1477.26 246.43 L1476.46 246.43 L1475.65 246.43 L1474.84 246.43 L1474.04 246.43 L1473.23 246.43 L1472.42 246.43 L1471.62 246.43 L1470.81 246.43 L1470 246.43 L1469.19 246.43 L1468.39 246.43 L1467.58 246.43 L1466.77 246.43 L1465.97 246.43 L1465.16 246.43 L1464.35 246.43 L1463.55 246.43 L1462.74 246.43 L1461.93 246.43 L1461.13 246.43 L1460.32 246.43 L1459.51 246.43 L1458.71 246.43 L1457.9 246.43 L1457.09 246.43 L1456.29 246.43 L1455.48 246.43 L1454.67 246.43 L1453.86 246.43 L1453.06 246.43 L1452.25 246.43 L1451.44 246.43 L1450.64 246.43 L1449.83 246.43 L1449.02 246.43 L1448.22 246.43 L1447.41 246.43 L1446.6 246.43 L1445.8 246.43 L1444.99 246.43 L1444.18 246.43 L1443.38 246.43 L1442.57 246.43 L1441.76 246.43 L1440.96 246.43 L1440.15 246.43 L1439.34 246.43 L1438.53 246.43 L1437.73 246.43 L1436.92 246.43 L1436.11 246.43 L1435.31 246.43 L1434.5 246.43 L1433.69 246.43 L1432.89 246.43 L1432.08 246.43 L1431.27 246.43 L1430.47 246.43 L1429.66 246.43 L1428.85 246.43 L1428.05 246.43 L1427.24 246.43 L1426.43 246.43 L1425.63 246.43 L1424.82 246.43 L1424.01 246.43 L1423.2 246.43 L1422.4 246.43 L1421.59 246.43 L1420.78 246.43 L1419.98 246.43 L1419.17 246.43 L1418.36 246.43 L1417.56 246.43 L1416.75 246.43 L1415.94 246.43 L1415.14 246.43 L1414.33 246.43 L1413.52 246.43 L1412.72 246.43 L1411.91 246.43 L1411.1 246.43 L1410.29 246.43 L1409.49 246.43 L1408.68 246.43 L1407.87 246.43 L1407.07 246.43 L1406.26 246.43 L1405.45 246.43 L1404.65 246.43 L1403.84 246.43 L1403.03 246.43 L1402.23 246.43 L1401.42 246.43 L1400.61 246.43 L1399.81 246.43 L1399 246.43 L1398.19 246.43 L1397.39 246.43 L1396.58 246.43 L1395.77 246.43 L1394.96 246.43 L1394.16 246.43 L1393.35 246.43 L1392.54 246.43 L1391.74 246.43 L1390.93 246.43 L1390.12 246.43 L1389.32 246.43 L1388.51 246.43 L1387.7 246.43 L1386.9 246.43 L1386.09 246.43 L1385.28 246.43 L1384.48 246.43 L1383.67 246.43 L1382.86 246.43 L1382.06 246.43 L1381.25 246.43 L1380.44 246.43 L1379.63 246.43 L1378.83 246.43 L1378.02 246.43 L1377.21 246.43 L1376.41 246.43 L1375.6 246.43 L1374.79 246.43 L1373.99 246.43 L1373.18 246.43 L1372.37 246.43 L1371.57 246.43 L1370.76 246.43 L1369.95 246.43 L1369.15 246.43 L1368.34 246.43 L1367.53 246.43 L1366.73 246.43 L1365.92 246.43 L1365.11 246.43 L1364.3 246.43 L1363.5 246.43 L1362.69 246.43 L1361.88 246.43 L1361.08 246.43 L1360.27 246.43 L1359.46 246.43 L1358.66 246.43 L1357.85 246.43 L1357.04 246.43 L1356.24 246.43 L1355.43 246.43 L1354.62 246.43 L1353.82 246.43 L1353.01 246.43 L1352.2 246.43 L1351.4 246.43 L1350.59 246.43 L1349.78 246.43 L1348.97 246.43 L1348.17 246.43 L1347.36 246.43 L1346.55 246.43 L1345.75 246.43 L1344.94 246.43 L1344.13 246.43 L1343.33 246.43 L1342.52 246.43 L1341.71 246.43 L1340.91 246.43 L1340.1 246.43 L1339.29 246.43 L1338.49 246.43 L1337.68 246.43 L1336.87 246.43 L1336.07 246.43 L1335.26 246.43 L1334.45 246.43 L1333.64 246.43 L1332.84 246.43 L1332.03 246.43 L1331.22 246.43 L1330.42 246.43 L1329.61 246.43 L1328.8 246.43 L1328 246.43 L1327.19 246.43 L1326.38 246.43 L1325.58 246.43 L1324.77 246.43 L1323.96 246.43 L1323.16 246.43 L1322.35 246.43 L1321.54 246.43 L1320.74 246.43 L1319.93 246.43 L1319.12 246.43 L1318.31 246.43 L1317.51 246.43 L1316.7 246.43 L1315.89 246.43 L1315.09 246.43 L1314.28 246.43 L1313.47 246.43 L1312.67 246.43 L1311.86 246.43 L1311.05 246.43 L1310.25 246.43 L1309.44 246.43 L1308.63 246.43 L1307.83 246.43 L1307.02 246.43 L1306.21 246.43 L1305.4 246.43 L1304.6 246.43 L1303.79 246.43 L1302.98 246.43 L1302.18 246.43 L1301.37 246.43 L1300.56 246.43 L1299.76 246.43 L1298.95 246.43 L1298.14 246.43 L1297.34 246.43 L1296.53 246.43 L1295.72 246.43 L1294.92 246.43 L1294.11 246.43 L1293.3 246.43 L1292.5 246.43 L1291.69 246.43 L1290.88 246.43 L1290.07 246.43 L1289.27 246.43 L1288.46 246.43 L1287.65 246.43 L1286.85 246.43 L1286.04 246.43 L1285.23 246.43 L1284.43 246.43 L1283.62 246.43 L1282.81 246.43 L1282.01 246.43 L1281.2 246.43 L1280.39 246.43 L1279.59 246.43 L1278.78 246.43 L1277.97 246.43 L1277.17 246.43 L1276.36 246.43 L1275.55 246.43 L1274.74 246.43 L1273.94 246.43 L1273.13 246.43 L1272.32 246.43 L1271.52 246.43 L1270.71 246.43 L1269.9 246.43 L1269.1 246.43 L1268.29 246.43 L1267.48 246.43 L1266.68 246.43 L1265.87 246.43 L1265.06 246.43 L1264.26 246.43 L1263.45 246.43 L1262.64 246.43 L1261.84 246.43 L1261.03 246.43 L1260.22 246.43 L1259.41 246.43 L1258.61 246.43 L1257.8 246.43 L1256.99 246.43 L1256.19 246.43 L1255.38 246.43 L1254.57 246.43 L1253.77 246.43 L1252.96 246.43 L1252.15 246.43 L1251.35 246.43 L1250.54 246.43 L1249.73 246.43 L1248.93 246.43 L1248.12 246.43 L1247.31 246.43 L1246.51 246.43 L1245.7 246.43 L1244.89 246.43 L1244.08 246.43 L1243.28 246.43 L1242.47 246.43 L1241.66 246.43 L1240.86 246.43 L1240.05 246.43 L1239.24 246.43 L1238.44 246.43 L1237.63 246.43 L1236.82 246.43 L1236.02 246.43 L1235.21 246.43 L1234.4 246.43 L1233.6 246.43 L1232.79 246.43 L1231.98 246.43 L1231.18 246.43 L1230.37 246.43 L1229.56 246.43 L1228.75 246.43 L1227.95 246.43 L1227.14 246.43 L1226.33 246.43 L1225.53 246.43 L1224.72 246.43 L1223.91 246.43 L1223.11 246.43 L1222.3 246.43 L1221.49 246.43 L1220.69 246.43 L1219.88 246.43 L1219.07 246.43 L1218.27 246.43 L1217.46 246.43 L1216.65 246.43 L1215.84 246.43 L1215.04 246.43 L1214.23 246.43 L1213.42 246.43 L1212.62 246.43 L1211.81 246.43 L1211 246.43 L1210.2 246.43 L1209.39 246.43 L1208.58 246.43 L1207.78 246.43 L1206.97 246.43 L1206.16 246.43 L1205.36 246.43 L1204.55 246.43 L1203.74 246.43 L1202.94 246.43 L1202.13 246.43 L1201.32 246.43 L1200.51 246.43 L1199.71 246.43 L1198.9 246.43 L1198.09 246.43 L1197.29 246.43 L1196.48 246.43 L1195.67 246.43 L1194.87 246.43 L1194.06 246.43 L1193.25 246.43 L1192.45 246.43 L1191.64 246.43 L1190.83 246.43 L1190.03 246.43 L1189.22 246.43 L1188.41 246.43 L1187.61 246.43 L1186.8 246.43 L1185.99 246.43 L1185.18 246.43 L1184.38 246.43 L1183.57 246.43 L1182.76 246.43 L1181.96 246.43 L1181.15 246.43 L1180.34 246.43 L1179.54 246.43 L1178.73 246.43 L1177.92 246.43 L1177.12 246.43 L1176.31 246.43 L1175.5 246.43 L1174.7 246.43 L1173.89 246.43 L1173.08 246.43 L1172.28 246.43 L1171.47 246.43 L1170.66 246.43 L1169.85 246.43 L1169.05 246.43 L1168.24 246.43 L1167.43 246.43 L1166.63 246.43 L1165.82 246.43 L1165.01 246.43 L1164.21 246.43 L1163.4 246.43 L1162.59 246.43 L1161.79 246.43 L1160.98 246.43 L1160.17 246.43 L1159.37 246.43 L1158.56 246.43 L1157.75 246.43 L1156.95 246.43 L1156.14 246.43 L1155.33 246.43 L1154.52 246.43 L1153.72 246.43 L1152.91 246.43 L1152.1 246.43 L1151.3 246.43 L1150.49 246.43 L1149.68 246.43 L1148.88 246.43 L1148.07 246.43 L1147.26 246.43 L1146.46 246.43 L1145.65 246.43 L1144.84 246.43 L1144.04 246.43 L1143.23 246.43 L1142.42 246.43 L1141.62 246.43 L1140.81 246.43 L1140 246.43 L1139.19 246.43 L1138.39 246.43 L1137.58 246.43 L1136.77 246.43 L1135.97 246.43 L1135.16 246.43 L1134.35 246.43 L1133.55 246.43 L1132.74 246.43 L1131.93 246.43 L1131.13 246.43 L1130.32 246.43 L1129.51 246.43 L1128.71 246.43 L1127.9 246.43 L1127.09 246.43 L1126.29 246.43 L1125.48 246.43 L1124.67 246.43 L1123.86 246.43 L1123.06 246.43 L1122.25 246.43 L1121.44 246.43 L1120.64 246.43 L1119.83 246.43 L1119.02 246.43 L1118.22 246.43 L1117.41 246.43 L1116.6 246.43 L1115.8 246.43 L1114.99 246.43 L1114.18 246.43 L1113.38 246.43 L1112.57 246.43 L1111.76 246.43 L1110.95 246.43 L1110.15 246.43 L1109.34 246.43 L1108.53 246.43 L1107.73 246.43 L1106.92 246.43 L1106.11 246.43 L1105.31 246.43 L1105.31 246.43 Z" fill="#1f5fa8" fill-opacity="0.12" stroke="none" clip-path="url(#cc)"/>
<path d="M1105.5 117.59 V426.8" stroke="#b0b0b0" stroke-opacity="0.3" stroke-width="0.97" fill="none"/>
<path d="M1201.5 117.59 V426.8" stroke="#b0b0b0" stroke-opacity="0.3" stroke-width="0.97" fill="none"/>
<path d="M1298.5 117.59 V426.8" stroke="#b0b0b0" stroke-opacity="0.3" stroke-width="0.97" fill="none"/>
<path d="M1395.5 117.59 V426.8" stroke="#b0b0b0" stroke-opacity="0.3" stroke-width="0.97" fill="none"/>
<path d="M1491.5 117.59 V426.8" stroke="#b0b0b0" stroke-opacity="0.3" stroke-width="0.97" fill="none"/>
<path d="M1105.31 401.5 H1559.61" stroke="#b0b0b0" stroke-opacity="0.3" stroke-width="0.97" fill="none"/>
<path d="M1105.31 349.5 H1559.61" stroke="#b0b0b0" stroke-opacity="0.3" stroke-width="0.97" fill="none"/>
<path d="M1105.31 297.5 H1559.61" stroke="#b0b0b0" stroke-opacity="0.3" stroke-width="0.97" fill="none"/>
<path d="M1105.31 246.5 H1559.61" stroke="#b0b0b0" stroke-opacity="0.3" stroke-width="0.97" fill="none"/>
<path d="M1105.31 194.5 H1559.61" stroke="#b0b0b0" stroke-opacity="0.3" stroke-width="0.97" fill="none"/>
<path d="M1105.31 143.5 H1559.61" stroke="#b0b0b0" stroke-opacity="0.3" stroke-width="0.97" fill="none"/>
<path d="M1105.31 246.43 L1559.61 246.43" fill="none" stroke="#808080" stroke-width="0.97" stroke-linecap="square" stroke-linejoin="round" clip-path="url(#cc)"/>
<path d="M1105.31 246.43 L1106.11 246.43 L1106.92 246.43 L1107.73 246.43 L1108.53 246.43 L1109.34 246.43 L1110.15 246.43 L1110.95 246.43 L1111.76 246.43 L1112.57 246.43 L1113.38 246.43 L1114.18 246.43 L1114.99 246.43 L1115.8 246.43 L1116.6 246.43 L1117.41 246.43 L1118.22 246.43 L1119.02 246.43 L1119.83 246.43 L1120.64 246.43 L1121.44 246.43 L1122.25 246.43 L1123.06 246.43 L1123.86 246.43 L1124.67 246.43 L1125.48 246.43 L1126.29 246.43 L1127.09 246.43 L1127.9 246.43 L1128.71 246.43 L1129.51 246.43 L1130.32 246.43 L1131.13 246.43 L1131.93 246.43 L1132.74 246.43 L1133.55 246.43 L1134.35 246.43 L1135.16 246.43 L1135.97 246.43 L1136.77 246.43 L1137.58 246.43 L1138.39 246.43 L1139.19 246.43 L1140 246.43 L1140.81 246.43 L1141.62 246.43 L1142.42 246.43 L1143.23 246.43 L1144.04 246.43 L1144.84 246.43 L1145.65 246.43 L1146.46 246.43 L1147.26 246.43 L1148.07 246.43 L1148.88 246.43 L1149.68 246.43 L1150.49 246.43 L1151.3 246.43 L1152.1 246.43 L1152.91 246.43 L1153.72 246.43 L1154.52 246.43 L1155.33 246.43 L1156.14 246.43 L1156.95 246.43 L1157.75 246.43 L1158.56 246.43 L1159.37 246.43 L1160.17 246.43 L1160.98 246.43 L1161.79 246.43 L1162.59 246.43 L1163.4 246.43 L1164.21 246.43 L1165.01 246.43 L1165.82 246.43 L1166.63 246.43 L1167.43 246.43 L1168.24 246.43 L1169.05 246.43 L1169.85 246.43 L1170.66 246.43 L1171.47 246.43 L1172.28 246.43 L1173.08 246.43 L1173.89 246.43 L1174.7 246.43 L1175.5 246.43 L1176.31 246.43 L1177.12 246.43 L1177.92 246.43 L1178.73 246.43 L1179.54 246.43 L1180.34 246.43 L1181.15 246.43 L1181.96 246.43 L1182.76 246.43 L1183.57 246.43 L1184.38 246.43 L1185.18 246.43 L1185.99 246.43 L1186.8 246.43 L1187.61 246.43 L1188.41 246.43 L1189.22 246.43 L1190.03 246.43 L1190.83 246.43 L1191.64 246.43 L1192.45 246.43 L1193.25 246.43 L1194.06 246.43 L1194.87 246.43 L1195.67 246.43 L1196.48 246.43 L1197.29 246.43 L1198.09 246.43 L1198.9 246.43 L1199.71 246.43 L1200.51 246.43 L1201.32 246.43 L1202.13 246.43 L1202.94 246.43 L1203.74 246.43 L1204.55 246.43 L1205.36 246.43 L1206.16 246.43 L1206.97 246.43 L1207.78 246.43 L1208.58 246.43 L1209.39 246.43 L1210.2 246.43 L1211 246.43 L1211.81 246.43 L1212.62 246.43 L1213.42 246.43 L1214.23 246.43 L1215.04 246.43 L1215.84 246.43 L1216.65 246.43 L1217.46 246.43 L1218.27 246.43 L1219.07 246.43 L1219.88 246.43 L1220.69 246.43 L1221.49 246.43 L1222.3 246.43 L1223.11 246.43 L1223.91 246.43 L1224.72 246.43 L1225.53 246.43 L1226.33 246.43 L1227.14 246.43 L1227.95 246.43 L1228.75 246.43 L1229.56 246.43 L1230.37 246.43 L1231.18 246.43 L1231.98 246.43 L1232.79 246.43 L1233.6 246.43 L1234.4 246.43 L1235.21 246.43 L1236.02 246.43 L1236.82 246.43 L1237.63 246.43 L1238.44 246.43 L1239.24 246.43 L1240.05 246.43 L1240.86 246.43 L1241.66 246.43 L1242.47 246.43 L1243.28 246.43 L1244.08 246.43 L1244.89 246.43 L1245.7 246.43 L1246.51 246.43 L1247.31 246.43 L1248.12 246.43 L1248.93 246.43 L1249.73 246.43 L1250.54 246.43 L1251.35 246.43 L1252.15 246.43 L1252.96 246.43 L1253.77 246.43 L1254.57 246.43 L1255.38 246.43 L1256.19 246.43 L1256.99 246.43 L1257.8 246.43 L1258.61 246.43 L1259.41 246.43 L1260.22 246.43 L1261.03 246.43 L1261.84 246.43 L1262.64 246.43 L1263.45 246.43 L1264.26 246.43 L1265.06 246.43 L1265.87 246.43 L1266.68 246.43 L1267.48 246.43 L1268.29 246.43 L1269.1 246.43 L1269.9 246.43 L1270.71 246.43 L1271.52 246.43 L1272.32 246.43 L1273.13 246.43 L1273.94 246.43 L1274.74 246.43 L1275.55 246.43 L1276.36 246.43 L1277.17 246.43 L1277.97 246.43 L1278.78 246.43 L1279.59 246.43 L1280.39 246.43 L1281.2 246.43 L1282.01 246.43 L1282.81 246.43 L1283.62 246.43 L1284.43 246.43 L1285.23 246.43 L1286.04 246.43 L1286.85 246.43 L1287.65 246.43 L1288.46 246.43 L1289.27 246.43 L1290.07 246.43 L1290.88 246.43 L1291.69 246.43 L1292.5 246.43 L1293.3 246.43 L1294.11 246.43 L1294.92 246.43 L1295.72 246.43 L1296.53 246.43 L1297.34 246.43 L1298.14 246.43 L1298.95 246.43 L1299.76 246.43 L1300.56 246.43 L1301.37 246.43 L1302.18 246.43 L1302.98 246.43 L1303.79 246.43 L1304.6 246.43 L1305.4 246.43 L1306.21 246.43 L1307.02 246.43 L1307.83 246.43 L1308.63 246.43 L1309.44 246.43 L1310.25 246.43 L1311.05 246.43 L1311.86 246.43 L1312.67 246.43 L1313.47 246.43 L1314.28 246.43 L1315.09 246.43 L1315.89 246.43 L1316.7 246.43 L1317.51 246.43 L1318.31 246.43 L1319.12 246.43 L1319.93 246.43 L1320.74 246.43 L1321.54 246.43 L1322.35 246.43 L1323.16 246.43 L1323.96 246.43 L1324.77 246.43 L1325.58 246.43 L1326.38 246.43 L1327.19 246.43 L1328 246.43 L1328.8 246.43 L1329.61 246.43 L1330.42 246.43 L1331.22 246.43 L1332.03 246.43 L1332.84 246.43 L1333.64 246.43 L1334.45 246.43 L1335.26 246.43 L1336.07 246.43 L1336.87 246.43 L1337.68 246.43 L1338.49 246.43 L1339.29 246.43 L1340.1 246.43 L1340.91 246.43 L1341.71 246.43 L1342.52 246.43 L1343.33 246.43 L1344.13 246.43 L1344.94 246.43 L1345.75 246.43 L1346.55 246.43 L1347.36 246.43 L1348.17 246.43 L1348.97 246.43 L1349.78 246.43 L1350.59 246.43 L1351.4 246.43 L1352.2 246.43 L1353.01 246.43 L1353.82 246.43 L1354.62 246.43 L1355.43 246.43 L1356.24 246.43 L1357.04 246.43 L1357.85 246.43 L1358.66 246.43 L1359.46 246.43 L1360.27 246.43 L1361.08 246.43 L1361.88 246.43 L1362.69 246.43 L1363.5 246.43 L1364.3 246.43 L1365.11 246.43 L1365.92 246.43 L1366.73 246.43 L1367.53 246.43 L1368.34 246.43 L1369.15 246.43 L1369.95 246.43 L1370.76 246.43 L1371.57 246.43 L1372.37 246.44 L1373.18 246.44 L1373.99 246.44 L1374.79 246.44 L1375.6 246.45 L1376.41 246.45 L1377.21 246.46 L1378.02 246.46 L1378.83 246.47 L1379.63 246.48 L1380.44 246.48 L1381.25 246.49 L1382.06 246.5 L1382.86 246.52 L1383.67 246.53 L1384.48 246.54 L1385.28 246.56 L1386.09 246.57 L1386.9 246.59 L1387.7 246.61 L1388.51 246.63 L1389.32 246.65 L1390.12 246.68 L1390.93 246.7 L1391.74 246.73 L1392.54 246.76 L1393.35 246.79 L1394.16 246.83 L1394.96 246.86 L1395.77 246.9 L1396.58 246.94 L1397.39 246.99 L1398.19 247.03 L1399 247.08 L1399.81 247.13 L1400.61 247.18 L1401.42 247.24 L1402.23 247.3 L1403.03 247.36 L1403.84 247.42 L1404.65 247.49 L1405.45 247.56 L1406.26 247.64 L1407.07 247.72 L1407.87 247.8 L1408.68 247.88 L1409.49 247.97 L1410.29 248.06 L1411.1 248.16 L1411.91 248.26 L1412.72 248.36 L1413.52 248.47 L1414.33 248.58 L1415.14 248.7 L1415.94 248.82 L1416.75 248.94 L1417.56 249.07 L1418.36 249.21 L1419.17 249.35 L1419.98 249.49 L1420.78 249.64 L1421.59 249.79 L1422.4 249.95 L1423.2 250.12 L1424.01 250.28 L1424.82 250.46 L1425.63 250.64 L1426.43 250.83 L1427.24 251.02 L1428.05 251.21 L1428.85 251.42 L1429.66 251.63 L1430.47 251.84 L1431.27 252.06 L1432.08 252.29 L1432.89 252.52 L1433.69 252.76 L1434.5 253.01 L1435.31 253.26 L1436.11 253.52 L1436.92 253.79 L1437.73 254.07 L1438.53 254.35 L1439.34 254.64 L1440.15 254.93 L1440.96 255.24 L1441.76 255.55 L1442.57 255.86 L1443.38 256.19 L1444.18 256.52 L1444.99 256.87 L1445.8 257.22 L1446.6 257.57 L1447.41 257.94 L1448.22 258.32 L1449.02 258.7 L1449.83 259.09 L1450.64 259.49 L1451.44 259.9 L1452.25 260.32 L1453.06 260.75 L1453.86 261.18 L1454.67 261.63 L1455.48 262.08 L1456.29 262.55 L1457.09 263.02 L1457.9 263.51 L1458.71 264 L1459.51 264.51 L1460.32 265.02 L1461.13 265.54 L1461.93 266.08 L1462.74 266.62 L1463.55 267.18 L1464.35 267.74 L1465.16 268.32 L1465.97 268.91 L1466.77 269.51 L1467.58 270.12 L1468.39 270.74 L1469.19 271.37 L1470 272.01 L1470.81 272.67 L1471.62 273.33 L1472.42 274.01 L1473.23 274.7 L1474.04 275.41 L1474.84 276.12 L1475.65 276.85 L1476.46 277.59 L1477.26 278.34 L1478.07 279.11 L1478.88 279.88 L1479.68 280.67 L1480.49 281.48 L1481.3 282.29 L1482.1 283.12 L1482.91 283.97 L1483.72 284.82 L1484.52 285.69 L1485.33 286.58 L1486.14 287.48 L1486.95 288.39 L1487.75 289.32 L1488.56 290.26 L1489.37 291.21 L1490.17 292.18 L1490.98 293.16 L1491.79 294.16 L1492.59 295.18 L1493.4 296.21 L1494.21 297.25 L1495.01 298.31 L1495.82 299.38 L1496.63 300.47 L1497.43 301.58 L1498.24 302.7 L1499.05 303.84 L1499.85 304.99 L1500.66 306.16 L1501.47 307.35 L1502.28 308.55 L1503.08 309.77 L1503.89 311.01 L1504.7 312.26 L1505.5 313.53 L1506.31 314.82 L1507.12 316.12 L1507.92 317.44 L1508.73 318.78 L1509.54 320.14 L1510.34 321.51 L1511.15 322.91 L1511.96 324.32 L1512.76 325.74 L1513.57 327.19 L1514.38 328.66 L1515.18 330.14 L1515.99 331.64 L1516.8 333.16 L1517.61 334.7 L1518.41 336.26 L1519.22 337.84 L1520.03 339.44 L1520.83 341.06 L1521.64 342.7 L1522.45 344.35 L1523.25 346.03 L1524.06 347.73 L1524.87 349.44 L1525.67 351.18 L1526.48 352.94 L1527.29 354.72 L1528.09 356.52 L1528.9 358.34 L1529.71 360.18 L1530.52 362.04 L1531.32 363.93 L1532.13 365.83 L1532.94 367.76 L1533.74 369.71 L1534.55 371.68 L1535.36 373.67 L1536.16 375.69 L1536.97 377.72 L1537.78 379.78 L1538.58 381.86 L1539.39 383.97 L1540.2 386.1 L1541 388.25 L1541.81 390.42 L1542.62 392.62 L1543.42 394.84 L1544.23 397.08 L1545.04 399.35 L1545.85 401.64 L1546.65 403.96 L1547.46 406.3 L1548.27 408.66 L1549.07 411.05 L1549.88 413.47 L1550.69 415.9 L1551.49 418.37 L1552.3 420.85 L1553.11 423.37 L1553.91 425.91 L1554.72 428.47 L1555.53 431.06 L1556.33 433.68 L1557.14 436.32 L1557.95 438.98 L1558.75 441.68 L1559.56 444.4 L1560.37 447.14 L1561.18 449.92 L1561.98 452.72 L1562.79 455.54 L1563.6 458.4 L1564.4 461.28 L1565.21 464.19 L1566.02 467.12 L1566.82 470.09 L1567.63 473.08 L1568.44 476.1 L1569.24 479.15 L1570.05 482.22 L1570.86 485.33 L1571.66 488.46 L1572.47 491.62 L1573.28 494.81 L1574.08 498.03 L1574.89 501.28 L1575.7 504.56 L1576.51 507.87 L1577.31 511.21 L1578.12 514.57 L1578.93 517.97 L1579.73 521.4 L1580.54 524.86 L1581.35 528.34 L1582.15 531.86 L1582.96 535.41 L1583.77 538.99 L1584.57 542.6 L1585.38 546.25 L1586.19 549.92 L1586.99 553.63 L1587.8 557.36 L1588.61 561.13" fill="none" stroke="#0000cc" stroke-width="3.04" stroke-linecap="square" stroke-linejoin="round" clip-path="url(#cc)"/>
<path d="M1105.31 246.43 L1106.11 246.43 L1106.92 246.43 L1107.73 246.43 L1108.53 246.43 L1109.34 246.43 L1110.15 246.43 L1110.95 246.43 L1111.76 246.43 L1112.57 246.43 L1113.38 246.43 L1114.18 246.43 L1114.99 246.43 L1115.8 246.43 L1116.6 246.43 L1117.41 246.43 L1118.22 246.43 L1119.02 246.43 L1119.83 246.43 L1120.64 246.43 L1121.44 246.43 L1122.25 246.43 L1123.06 246.43 L1123.86 246.43 L1124.67 246.43 L1125.48 246.43 L1126.29 246.43 L1127.09 246.43 L1127.9 246.43 L1128.71 246.43 L1129.51 246.43 L1130.32 246.43 L1131.13 246.43 L1131.93 246.43 L1132.74 246.43 L1133.55 246.43 L1134.35 246.43 L1135.16 246.43 L1135.97 246.43 L1136.77 246.43 L1137.58 246.43 L1138.39 246.43 L1139.19 246.43 L1140 246.43 L1140.81 246.43 L1141.62 246.43 L1142.42 246.43 L1143.23 246.43 L1144.04 246.43 L1144.84 246.43 L1145.65 246.43 L1146.46 246.43 L1147.26 246.43 L1148.07 246.43 L1148.88 246.43 L1149.68 246.43 L1150.49 246.43 L1151.3 246.43 L1152.1 246.43 L1152.91 246.43 L1153.72 246.43 L1154.52 246.43 L1155.33 246.43 L1156.14 246.43 L1156.95 246.43 L1157.75 246.43 L1158.56 246.43 L1159.37 246.43 L1160.17 246.43 L1160.98 246.43 L1161.79 246.43 L1162.59 246.43 L1163.4 246.43 L1164.21 246.43 L1165.01 246.43 L1165.82 246.43 L1166.63 246.43 L1167.43 246.43 L1168.24 246.43 L1169.05 246.43 L1169.85 246.43 L1170.66 246.43 L1171.47 246.43 L1172.28 246.43 L1173.08 246.43 L1173.89 246.43 L1174.7 246.43 L1175.5 246.43 L1176.31 246.43 L1177.12 246.43 L1177.92 246.43 L1178.73 246.43 L1179.54 246.43 L1180.34 246.43 L1181.15 246.43 L1181.96 246.43 L1182.76 246.43 L1183.57 246.43 L1184.38 246.43 L1185.18 246.43 L1185.99 246.43 L1186.8 246.43 L1187.61 246.43 L1188.41 246.43 L1189.22 246.43 L1190.03 246.43 L1190.83 246.43 L1191.64 246.43 L1192.45 246.43 L1193.25 246.43 L1194.06 246.43 L1194.87 246.43 L1195.67 246.43 L1196.48 246.43 L1197.29 246.43 L1198.09 246.43 L1198.9 246.43 L1199.71 246.43 L1200.51 246.43 L1201.32 246.43 L1202.13 246.43 L1202.94 246.43 L1203.74 246.43 L1204.55 246.43 L1205.36 246.43 L1206.16 246.43 L1206.97 246.43 L1207.78 246.43 L1208.58 246.43 L1209.39 246.43 L1210.2 246.43 L1211 246.43 L1211.81 246.43 L1212.62 246.43 L1213.42 246.43 L1214.23 246.43 L1215.04 246.43 L1215.84 246.43 L1216.65 246.43 L1217.46 246.43 L1218.27 246.43 L1219.07 246.43 L1219.88 246.43 L1220.69 246.43 L1221.49 246.43 L1222.3 246.43 L1223.11 246.43 L1223.91 246.43 L1224.72 246.43 L1225.53 246.43 L1226.33 246.43 L1227.14 246.43 L1227.95 246.43 L1228.75 246.43 L1229.56 246.43 L1230.37 246.43 L1231.18 246.43 L1231.98 246.43 L1232.79 246.43 L1233.6 246.43 L1234.4 246.43 L1235.21 246.43 L1236.02 246.43 L1236.82 246.43 L1237.63 246.43 L1238.44 246.43 L1239.24 246.43 L1240.05 246.43 L1240.86 246.43 L1241.66 246.43 L1242.47 246.43 L1243.28 246.43 L1244.08 246.43 L1244.89 246.43 L1245.7 246.43 L1246.51 246.43 L1247.31 246.43 L1248.12 246.43 L1248.93 246.43 L1249.73 246.43 L1250.54 246.43 L1251.35 246.43 L1252.15 246.43 L1252.96 246.43 L1253.77 246.43 L1254.57 246.43 L1255.38 246.43 L1256.19 246.43 L1256.99 246.43 L1257.8 246.43 L1258.61 246.43 L1259.41 246.43 L1260.22 246.43 L1261.03 246.43 L1261.84 246.43 L1262.64 246.43 L1263.45 246.43 L1264.26 246.43 L1265.06 246.43 L1265.87 246.43 L1266.68 246.43 L1267.48 246.43 L1268.29 246.43 L1269.1 246.43 L1269.9 246.43 L1270.71 246.43 L1271.52 246.43 L1272.32 246.43 L1273.13 246.43 L1273.94 246.43 L1274.74 246.43 L1275.55 246.43 L1276.36 246.43 L1277.17 246.43 L1277.97 246.43 L1278.78 246.43 L1279.59 246.43 L1280.39 246.43 L1281.2 246.43 L1282.01 246.43 L1282.81 246.43 L1283.62 246.43 L1284.43 246.43 L1285.23 246.43 L1286.04 246.43 L1286.85 246.43 L1287.65 246.43 L1288.46 246.43 L1289.27 246.43 L1290.07 246.43 L1290.88 246.43 L1291.69 246.43 L1292.5 246.43 L1293.3 246.43 L1294.11 246.43 L1294.92 246.43 L1295.72 246.43 L1296.53 246.43 L1297.34 246.43 L1298.14 246.43 L1298.95 246.43 L1299.76 246.43 L1300.56 246.43 L1301.37 246.43 L1302.18 246.43 L1302.98 246.43 L1303.79 246.43 L1304.6 246.43 L1305.4 246.43 L1306.21 246.43 L1307.02 246.43 L1307.83 246.43 L1308.63 246.43 L1309.44 246.43 L1310.25 246.43 L1311.05 246.43 L1311.86 246.43 L1312.67 246.43 L1313.47 246.43 L1314.28 246.43 L1315.09 246.43 L1315.89 246.43 L1316.7 246.43 L1317.51 246.43 L1318.31 246.43 L1319.12 246.43 L1319.93 246.43 L1320.74 246.43 L1321.54 246.43 L1322.35 246.43 L1323.16 246.43 L1323.96 246.43 L1324.77 246.43 L1325.58 246.43 L1326.38 246.43 L1327.19 246.43 L1328 246.43 L1328.8 246.43 L1329.61 246.43 L1330.42 246.43 L1331.22 246.43 L1332.03 246.43 L1332.84 246.43 L1333.64 246.43 L1334.45 246.43 L1335.26 246.43 L1336.07 246.43 L1336.87 246.43 L1337.68 246.43 L1338.49 246.43 L1339.29 246.43 L1340.1 246.43 L1340.91 246.43 L1341.71 246.43 L1342.52 246.43 L1343.33 246.43 L1344.13 246.43 L1344.94 246.43 L1345.75 246.43 L1346.55 246.43 L1347.36 246.43 L1348.17 246.43 L1348.97 246.43 L1349.78 246.43 L1350.59 246.43 L1351.4 246.43 L1352.2 246.43 L1353.01 246.43 L1353.82 246.43 L1354.62 246.43 L1355.43 246.43 L1356.24 246.43 L1357.04 246.43 L1357.85 246.43 L1358.66 246.43 L1359.46 246.43 L1360.27 246.43 L1361.08 246.43 L1361.88 246.43 L1362.69 246.43 L1363.5 246.43 L1364.3 246.43 L1365.11 246.43 L1365.92 246.43 L1366.73 246.43 L1367.53 246.43 L1368.34 246.43 L1369.15 246.43 L1369.95 246.43 L1370.76 246.43 L1371.57 246.43 L1372.37 246.43 L1373.18 246.43 L1373.99 246.43 L1374.79 246.43 L1375.6 246.43 L1376.41 246.43 L1377.21 246.43 L1378.02 246.43 L1378.83 246.43 L1379.63 246.43 L1380.44 246.43 L1381.25 246.43 L1382.06 246.43 L1382.86 246.42 L1383.67 246.42 L1384.48 246.42 L1385.28 246.42 L1386.09 246.42 L1386.9 246.42 L1387.7 246.42 L1388.51 246.42 L1389.32 246.41 L1390.12 246.41 L1390.93 246.41 L1391.74 246.41 L1392.54 246.4 L1393.35 246.4 L1394.16 246.4 L1394.96 246.39 L1395.77 246.39 L1396.58 246.38 L1397.39 246.38 L1398.19 246.37 L1399 246.36 L1399.81 246.36 L1400.61 246.35 L1401.42 246.34 L1402.23 246.33 L1403.03 246.32 L1403.84 246.31 L1404.65 246.3 L1405.45 246.28 L1406.26 246.27 L1407.07 246.26 L1407.87 246.24 L1408.68 246.22 L1409.49 246.2 L1410.29 246.18 L1411.1 246.16 L1411.91 246.14 L1412.72 246.12 L1413.52 246.09 L1414.33 246.07 L1415.14 246.04 L1415.94 246.01 L1416.75 245.98 L1417.56 245.94 L1418.36 245.91 L1419.17 245.87 L1419.98 245.83 L1420.78 245.78 L1421.59 245.74 L1422.4 245.69 L1423.2 245.64 L1424.01 245.59 L1424.82 245.53 L1425.63 245.47 L1426.43 245.41 L1427.24 245.35 L1428.05 245.28 L1428.85 245.21 L1429.66 245.13 L1430.47 245.05 L1431.27 244.97 L1432.08 244.88 L1432.89 244.79 L1433.69 244.7 L1434.5 244.6 L1435.31 244.5 L1436.11 244.39 L1436.92 244.28 L1437.73 244.16 L1438.53 244.03 L1439.34 243.91 L1440.15 243.77 L1440.96 243.63 L1441.76 243.49 L1442.57 243.34 L1443.38 243.18 L1444.18 243.01 L1444.99 242.84 L1445.8 242.67 L1446.6 242.48 L1447.41 242.29 L1448.22 242.09 L1449.02 241.88 L1449.83 241.67 L1450.64 241.45 L1451.44 241.22 L1452.25 240.98 L1453.06 240.73 L1453.86 240.47 L1454.67 240.21 L1455.48 239.93 L1456.29 239.65 L1457.09 239.35 L1457.9 239.04 L1458.71 238.73 L1459.51 238.4 L1460.32 238.06 L1461.13 237.72 L1461.93 237.35 L1462.74 236.98 L1463.55 236.6 L1464.35 236.2 L1465.16 235.79 L1465.97 235.37 L1466.77 234.93 L1467.58 234.48 L1468.39 234.02 L1469.19 233.54 L1470 233.04 L1470.81 232.53 L1471.62 232.01 L1472.42 231.47 L1473.23 230.92 L1474.04 230.34 L1474.84 229.75 L1475.65 229.15 L1476.46 228.52 L1477.26 227.88 L1478.07 227.22 L1478.88 226.54 L1479.68 225.85 L1480.49 225.13 L1481.3 224.39 L1482.1 223.63 L1482.91 222.86 L1483.72 222.06 L1484.52 221.24 L1485.33 220.39 L1486.14 219.53 L1486.95 218.64 L1487.75 217.73 L1488.56 216.79 L1489.37 215.83 L1490.17 214.84 L1490.98 213.83 L1491.79 212.8 L1492.59 211.73 L1493.4 210.64 L1494.21 209.53 L1495.01 208.38 L1495.82 207.21 L1496.63 206.01 L1497.43 204.78 L1498.24 203.52 L1499.05 202.23 L1499.85 200.9 L1500.66 199.55 L1501.47 198.16 L1502.28 196.74 L1503.08 195.29 L1503.89 193.81 L1504.7 192.29 L1505.5 190.73 L1506.31 189.14 L1507.12 187.51 L1507.92 185.85 L1508.73 184.14 L1509.54 182.4 L1510.34 180.63 L1511.15 178.81 L1511.96 176.95 L1512.76 175.05 L1513.57 173.11 L1514.38 171.13 L1515.18 169.1 L1515.99 167.03 L1516.8 164.92 L1517.61 162.76 L1518.41 160.55 L1519.22 158.3 L1520.03 156.01 L1520.83 153.66 L1521.64 151.27 L1522.45 148.82 L1523.25 146.33 L1524.06 143.79 L1524.87 141.19 L1525.67 138.54 L1526.48 135.84 L1527.29 133.08 L1528.09 130.27 L1528.9 127.41 L1529.71 124.48 L1530.52 121.5 L1531.32 118.47 L1532.13 115.37 L1532.94 112.21 L1533.74 108.99 L1534.55 105.71 L1535.36 102.37 L1536.16 98.97 L1536.97 95.5 L1537.78 91.96 L1538.58 88.36 L1539.39 84.69 L1540.2 80.95 L1541 77.15 L1541.81 73.27 L1542.62 69.33 L1543.42 65.31 L1544.23 61.22 L1545.04 57.05 L1545.85 52.81 L1546.65 48.5 L1547.46 44.11 L1548.27 39.64 L1549.07 35.09 L1549.88 30.46 L1550.69 25.75 L1551.49 20.95 L1552.3 16.08 L1553.11 11.12 L1553.91 6.07 L1554.72 0.94 L1555.53 -4.28 L1556.33 -9.59 L1557.14 -14.98 L1557.95 -20.47 L1558.75 -26.05 L1559.56 -31.73 L1560.37 -37.5 L1561.18 -43.36 L1561.98 -49.32 L1562.79 -55.38 L1563.6 -61.54 L1564.4 -67.8 L1565.21 -74.16 L1566.02 -80.62 L1566.82 -87.19 L1567.63 -93.87 L1568.44 -100.65 L1569.24 -107.53 L1570.05 -114.53 L1570.86 -121.64 L1571.66 -128.86 L1572.47 -136.19 L1573.28 -143.64 L1574.08 -151.2 L1574.89 -158.89 L1575.7 -166.69 L1576.51 -174.61 L1577.31 -182.65 L1578.12 -190.81 L1578.93 -199.1 L1579.73 -207.51 L1580.54 -216.05 L1581.35 -224.72 L1582.15 -233.52 L1582.96 -242.45 L1583.77 -251.52 L1584.57 -260.72 L1585.38 -270.05 L1586.19 -279.52 L1586.99 -289.13 L1587.8 -298.88 L1588.61 -308.78" fill="none" stroke="#dd0000" stroke-width="3.04" stroke-dasharray="11.24 4.86" stroke-linecap="butt" stroke-linejoin="round" clip-path="url(#cc)"/>
<rect x="1105.31" y="117.59" width="454.3" height="309.21" fill="none" stroke="#000" stroke-width="0.97" stroke-linejoin="miter"/>
<path d="M1105.5 426.5 V430.75" stroke="#000" stroke-width="0.97"/>
<path d="M1201.5 426.5 V430.75" stroke="#000" stroke-width="0.97"/>
<path d="M1298.5 426.5 V430.75" stroke="#000" stroke-width="0.97"/>
<path d="M1395.5 426.5 V430.75" stroke="#000" stroke-width="0.97"/>
<path d="M1491.5 426.5 V430.75" stroke="#000" stroke-width="0.97"/>
<path d="M1105.5 401.5 H1101.25" stroke="#000" stroke-width="0.97"/>
<path d="M1105.5 349.5 H1101.25" stroke="#000" stroke-width="0.97"/>
<path d="M1105.5 297.5 H1101.25" stroke="#000" stroke-width="0.97"/>
<path d="M1105.5 246.5 H1101.25" stroke="#000" stroke-width="0.97"/>
<path d="M1105.5 194.5 H1101.25" stroke="#000" stroke-width="0.97"/>
<path d="M1105.5 143.5 H1101.25" stroke="#000" stroke-width="0.97"/>
<text x="1095.81" y="445.31" font-size="12.52" textLength="19.28" lengthAdjust="spacingAndGlyphs">0.0</text>
<text x="1192.47" y="445.31" font-size="12.52" textLength="19.28" lengthAdjust="spacingAndGlyphs">0.5</text>
<text x="1289.06" y="445.31" font-size="12.52" textLength="19.28" lengthAdjust="spacingAndGlyphs">1.0</text>
<text x="1385.73" y="445.31" font-size="12.52" textLength="19.28" lengthAdjust="spacingAndGlyphs">1.5</text>
<text x="1482.39" y="445.31" font-size="12.52" textLength="19.28" lengthAdjust="spacingAndGlyphs">2.0</text>
<text x="1078.93" y="406.03" font-size="12.52" textLength="17.87" lengthAdjust="spacingAndGlyphs">−6</text>
<text x="1078.93" y="354.5" font-size="12.52" textLength="17.87" lengthAdjust="spacingAndGlyphs">−4</text>
<text x="1078.93" y="302.96" font-size="12.52" textLength="17.87" lengthAdjust="spacingAndGlyphs">−2</text>
<text x="1089.18" y="251.43" font-size="12.52" textLength="7.71" lengthAdjust="spacingAndGlyphs">0</text>
<text x="1089.05" y="199.89" font-size="12.52" textLength="7.71" lengthAdjust="spacingAndGlyphs">2</text>
<text x="1089.05" y="148.36" font-size="12.52" textLength="7.71" lengthAdjust="spacingAndGlyphs">4</text>
<rect x="1110.78" y="123.06" width="219.22" height="38.22" rx="2.19" fill="#ffffff" fill-opacity="0.8" stroke="#cccccc" stroke-opacity="0.8" stroke-width="1.22"/>
<path d="M1115.15 132.61 L1126.09 132.61 L1137.03 132.61" fill="none" stroke="#0000cc" stroke-width="3.04" stroke-linecap="square" stroke-linejoin="round"/>
<path d="M1115.15 150.08 L1126.09 150.08 L1137.03 150.08" fill="none" stroke="#dd0000" stroke-width="3.04" stroke-dasharray="11.24 4.86" stroke-linecap="butt" stroke-linejoin="round"/>
<text x="1145.78" y="136.44" font-size="11.27" textLength="133.63" lengthAdjust="spacingAndGlyphs">3D: FINITE (closed-form)</text>
<text x="1145.78" y="153.9" font-size="11.27" textLength="19.07" lengthAdjust="spacingAndGlyphs">4D:</text>
<text x="1168.32" y="153.9" font-size="11.27" textLength="73.19" lengthAdjust="spacingAndGlyphs">log-divergent</text>
<text x="1244.99" y="153.9" font-size="11.27">(</text>
<text x="1249.25" y="153.9" font-size="11.27" font-style="italic">μ</text>
<text x="1256.21" y="153.9" font-size="11.27" textLength="67.38" lengthAdjust="spacingAndGlyphs">-dependent)</text>
<text x="1327.72" y="462.17" font-size="15.02" font-style="italic">φ</text>
<g transform="rotate(-90 1071.06 374.57)">
<text x="1071.06" y="374.57" font-size="15.02" textLength="203.34" lengthAdjust="spacingAndGlyphs">One-loop effective potential</text>
</g>
<text x="1216.9" y="95.3" font-size="13.77" textLength="230.86" lengthAdjust="spacingAndGlyphs">(c) One-loop corrections: 3D vs 4D</text>
<text x="1213.52" y="110.3" font-size="13.77" textLength="237.54" lengthAdjust="spacingAndGlyphs">3D is finite, 4D has log divergences</text>
</svg>
</body></html>
